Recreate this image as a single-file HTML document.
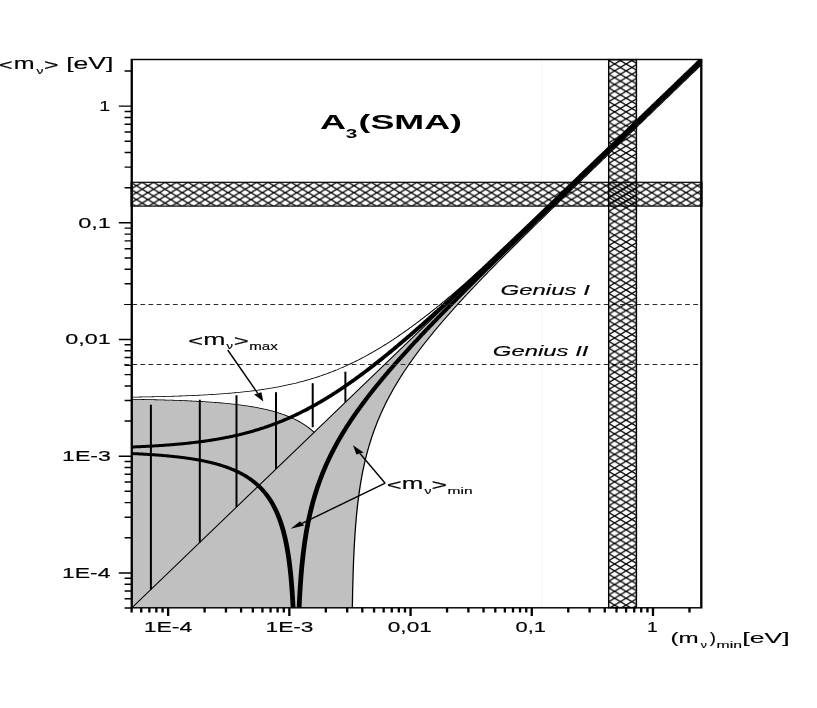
<!DOCTYPE html>
<html><head><meta charset="utf-8"><title>A3(SMA)</title>
<style>html,body{margin:0;padding:0;background:#fff}svg{display:block}text{font-family:"Liberation Sans",sans-serif;fill:#000}</style></head><body>
<svg width="817" height="708" viewBox="0 0 817 708" style="will-change:transform;filter:grayscale(1)">
<defs>
<pattern id="hv" patternUnits="userSpaceOnUse" x="614.6" y="63.95" width="11.5" height="6.85"><path d="M-1 -0.596 L12.5 7.446 M-1 7.446 L12.5 -0.596" stroke="#000" stroke-width="1.3" fill="none"/></pattern>
<pattern id="hh" patternUnits="userSpaceOnUse" x="147.9" y="185.7" width="11.45" height="6.95"><path d="M-1 -0.607 L12.45 7.557 M-1 7.557 L12.45 -0.607" stroke="#000" stroke-width="1.3" fill="none"/></pattern>
<clipPath id="clip"><rect x="82.34" y="59.50" width="355.97" height="548.30"/></clipPath>
</defs>
<rect width="817" height="708" fill="#fff"/>
<line x1="541.6" y1="59.50" x2="541.6" y2="607.80" stroke="#f6f6f6" stroke-width="1"/>
<g transform="scale(1.6,1)">
<g clip-path="url(#clip)">
<path d="M82.34 609.80 L82.34 399.31 L82.34 399.31 L83.10 399.33 L83.86 399.35 L84.62 399.37 L85.38 399.38 L86.14 399.40 L86.90 399.43 L87.66 399.45 L88.42 399.47 L89.19 399.49 L89.95 399.51 L90.71 399.54 L91.47 399.56 L92.23 399.58 L92.99 399.61 L93.75 399.63 L94.51 399.66 L95.27 399.69 L96.03 399.71 L96.79 399.74 L97.55 399.77 L98.31 399.80 L99.07 399.83 L99.83 399.86 L100.59 399.89 L101.35 399.92 L102.11 399.96 L102.87 399.99 L103.63 400.03 L104.39 400.06 L105.15 400.10 L105.91 400.13 L106.67 400.17 L107.43 400.21 L108.19 400.25 L108.95 400.29 L109.71 400.33 L110.47 400.38 L111.23 400.42 L111.99 400.47 L112.75 400.51 L113.51 400.56 L114.27 400.61 L115.03 400.66 L115.79 400.71 L116.55 400.76 L117.31 400.81 L118.07 400.87 L118.83 400.92 L119.59 400.98 L120.35 401.04 L121.11 401.10 L121.87 401.16 L122.63 401.23 L123.39 401.29 L124.15 401.36 L124.91 401.42 L125.67 401.49 L126.43 401.56 L127.19 401.64 L127.95 401.71 L128.71 401.79 L129.47 401.87 L130.23 401.95 L130.99 402.03 L131.75 402.12 L132.51 402.20 L133.27 402.29 L134.03 402.38 L134.79 402.48 L135.55 402.57 L136.31 402.67 L137.07 402.77 L137.83 402.88 L138.59 402.98 L139.35 403.09 L140.11 403.20 L140.87 403.32 L141.63 403.43 L142.39 403.55 L143.16 403.68 L143.92 403.80 L144.68 403.93 L145.44 404.07 L146.20 404.21 L146.96 404.35 L147.72 404.49 L148.48 404.64 L149.24 404.79 L150.00 404.95 L150.76 405.11 L151.52 405.27 L152.28 405.44 L153.04 405.61 L153.80 405.79 L154.56 405.97 L155.32 406.16 L156.08 406.35 L156.84 406.55 L157.60 406.75 L158.36 406.96 L159.12 407.18 L159.88 407.40 L160.64 407.63 L161.40 407.86 L162.16 408.10 L162.92 408.34 L163.68 408.60 L164.44 408.86 L165.20 409.13 L165.96 409.40 L166.72 409.69 L167.48 409.98 L168.24 410.28 L169.00 410.59 L169.76 410.91 L170.52 411.24 L171.28 411.58 L172.04 411.93 L172.80 412.29 L173.56 412.66 L174.32 413.04 L175.08 413.43 L175.84 413.84 L176.60 414.26 L177.36 414.69 L178.12 415.14 L178.88 415.60 L179.64 416.07 L180.40 416.57 L181.16 417.07 L181.92 417.60 L182.68 418.14 L183.44 418.71 L184.20 419.29 L184.96 419.89 L185.72 420.51 L186.48 421.16 L187.24 421.83 L188.00 422.53 L188.76 423.25 L189.52 424.00 L190.28 424.78 L191.04 425.59 L191.80 426.43 L192.56 427.31 L193.32 428.22 L194.08 429.17 L194.84 430.16 L195.60 431.20 L196.36 432.28 L196.36 432.28 L440.81 55.75 L440.81 61.00 L440.50 61.49 L440.18 61.97 L439.87 62.46 L439.55 62.94 L439.24 63.43 L438.92 63.92 L438.61 64.40 L438.29 64.89 L437.97 65.37 L437.66 65.86 L437.34 66.34 L437.03 66.83 L436.71 67.32 L436.40 67.80 L436.08 68.29 L435.77 68.77 L435.45 69.26 L435.14 69.74 L434.82 70.23 L434.51 70.72 L434.19 71.20 L433.88 71.69 L433.56 72.17 L433.24 72.66 L432.93 73.14 L432.61 73.63 L432.30 74.12 L431.98 74.60 L431.67 75.09 L431.35 75.57 L431.04 76.06 L430.72 76.54 L430.41 77.03 L430.09 77.52 L429.78 78.00 L429.46 78.49 L429.15 78.97 L428.83 79.46 L428.51 79.94 L428.20 80.43 L427.88 80.92 L427.57 81.40 L427.25 81.89 L426.94 82.37 L426.62 82.86 L426.31 83.34 L425.99 83.83 L425.68 84.32 L425.36 84.80 L425.05 85.29 L424.73 85.77 L424.42 86.26 L424.10 86.74 L423.79 87.23 L423.47 87.72 L423.15 88.20 L422.84 88.69 L422.52 89.17 L422.21 89.66 L421.89 90.14 L421.58 90.63 L421.26 91.12 L420.95 91.60 L420.63 92.09 L420.32 92.57 L420.00 93.06 L419.69 93.54 L419.37 94.03 L419.06 94.52 L418.74 95.00 L418.42 95.49 L418.11 95.97 L417.79 96.46 L417.48 96.95 L417.16 97.43 L416.85 97.92 L416.53 98.40 L416.22 98.89 L415.90 99.37 L415.59 99.86 L415.27 100.35 L414.96 100.83 L414.64 101.32 L414.33 101.80 L414.01 102.29 L413.69 102.77 L413.38 103.26 L413.06 103.75 L412.75 104.23 L412.43 104.72 L412.12 105.20 L411.80 105.69 L411.49 106.17 L411.17 106.66 L410.86 107.15 L410.54 107.63 L410.23 108.12 L409.91 108.60 L409.60 109.09 L409.28 109.58 L408.96 110.06 L408.65 110.55 L408.33 111.03 L408.02 111.52 L407.70 112.00 L407.39 112.49 L407.07 112.98 L406.76 113.46 L406.44 113.95 L406.13 114.43 L405.81 114.92 L405.50 115.41 L405.18 115.89 L404.87 116.38 L404.55 116.86 L404.23 117.35 L403.92 117.83 L403.60 118.32 L403.29 118.81 L402.97 119.29 L402.66 119.78 L402.34 120.26 L402.03 120.75 L401.71 121.24 L401.40 121.72 L401.08 122.21 L400.77 122.69 L400.45 123.18 L400.14 123.66 L399.82 124.15 L399.51 124.64 L399.19 125.12 L398.87 125.61 L398.56 126.09 L398.24 126.58 L397.93 127.07 L397.61 127.55 L397.30 128.04 L396.98 128.52 L396.67 129.01 L396.35 129.50 L396.04 129.98 L395.72 130.47 L395.41 130.95 L395.09 131.44 L394.78 131.92 L394.46 132.41 L394.14 132.90 L393.83 133.38 L393.51 133.87 L393.20 134.35 L392.88 134.84 L392.57 135.33 L392.25 135.81 L391.94 136.30 L391.62 136.78 L391.31 137.27 L390.99 137.76 L390.68 138.24 L390.36 138.73 L390.05 139.21 L389.73 139.70 L389.41 140.19 L389.10 140.67 L388.78 141.16 L388.47 141.64 L388.15 142.13 L387.84 142.62 L387.52 143.10 L387.21 143.59 L386.89 144.07 L386.58 144.56 L386.26 145.05 L385.95 145.53 L385.63 146.02 L385.32 146.50 L385.00 146.99 L384.68 147.48 L384.37 147.96 L384.05 148.45 L383.74 148.94 L383.42 149.42 L383.11 149.91 L382.79 150.39 L382.48 150.88 L382.16 151.37 L381.85 151.85 L381.53 152.34 L381.22 152.82 L380.90 153.31 L380.59 153.80 L380.27 154.28 L379.96 154.77 L379.64 155.26 L379.32 155.74 L379.01 156.23 L378.69 156.71 L378.38 157.20 L378.06 157.69 L377.75 158.17 L377.43 158.66 L377.12 159.15 L376.80 159.63 L376.49 160.12 L376.17 160.61 L375.86 161.09 L375.54 161.58 L375.23 162.06 L374.91 162.55 L374.59 163.04 L374.28 163.52 L373.96 164.01 L373.65 164.50 L373.33 164.98 L373.02 165.47 L372.70 165.96 L372.39 166.44 L372.07 166.93 L371.76 167.42 L371.44 167.90 L371.13 168.39 L370.81 168.88 L370.50 169.36 L370.18 169.85 L369.86 170.34 L369.55 170.82 L369.23 171.31 L368.92 171.80 L368.60 172.28 L368.29 172.77 L367.97 173.26 L367.66 173.74 L367.34 174.23 L367.03 174.72 L366.71 175.20 L366.40 175.69 L366.08 176.18 L365.77 176.66 L365.45 177.15 L365.13 177.64 L364.82 178.13 L364.50 178.61 L364.19 179.10 L363.87 179.59 L363.56 180.07 L363.24 180.56 L362.93 181.05 L362.61 181.54 L362.30 182.02 L361.98 182.51 L361.67 183.00 L361.35 183.49 L361.04 183.97 L360.72 184.46 L360.40 184.95 L360.09 185.43 L359.77 185.92 L359.46 186.41 L359.14 186.90 L358.83 187.38 L358.51 187.87 L358.20 188.36 L357.88 188.85 L357.57 189.34 L357.25 189.82 L356.94 190.31 L356.62 190.80 L356.31 191.29 L355.99 191.78 L355.68 192.26 L355.36 192.75 L355.04 193.24 L354.73 193.73 L354.41 194.22 L354.10 194.70 L353.78 195.19 L353.47 195.68 L353.15 196.17 L352.84 196.66 L352.52 197.15 L352.21 197.63 L351.89 198.12 L351.58 198.61 L351.26 199.10 L350.95 199.59 L350.63 200.08 L350.31 200.57 L350.00 201.05 L349.68 201.54 L349.37 202.03 L349.05 202.52 L348.74 203.01 L348.42 203.50 L348.11 203.99 L347.79 204.48 L347.48 204.97 L347.16 205.46 L346.85 205.95 L346.53 206.44 L346.22 206.93 L345.90 207.42 L345.58 207.91 L345.27 208.40 L344.95 208.89 L344.64 209.38 L344.32 209.87 L344.01 210.36 L343.69 210.85 L343.38 211.34 L343.06 211.83 L342.75 212.32 L342.43 212.81 L342.12 213.30 L341.80 213.79 L341.49 214.28 L341.17 214.77 L340.85 215.26 L340.54 215.75 L340.22 216.24 L339.91 216.74 L339.59 217.23 L339.28 217.72 L338.96 218.21 L338.65 218.70 L338.33 219.19 L338.02 219.69 L337.70 220.18 L337.39 220.67 L337.07 221.16 L336.76 221.66 L336.44 222.15 L336.13 222.64 L335.81 223.13 L335.49 223.63 L335.18 224.12 L334.86 224.61 L334.55 225.11 L334.23 225.60 L333.92 226.09 L333.60 226.59 L333.29 227.08 L332.97 227.57 L332.66 228.07 L332.34 228.56 L332.03 229.06 L331.71 229.55 L331.40 230.05 L331.08 230.54 L330.76 231.04 L330.45 231.53 L330.13 232.03 L329.82 232.52 L329.50 233.02 L329.19 233.51 L328.87 234.01 L328.56 234.51 L328.24 235.00 L327.93 235.50 L327.61 235.99 L327.30 236.49 L326.98 236.99 L326.67 237.49 L326.35 237.98 L326.03 238.48 L325.72 238.98 L325.40 239.48 L325.09 239.97 L324.77 240.47 L324.46 240.97 L324.14 241.47 L323.83 241.97 L323.51 242.47 L323.20 242.97 L322.88 243.47 L322.57 243.97 L322.25 244.47 L321.94 244.97 L321.62 245.47 L321.30 245.97 L320.99 246.47 L320.67 246.97 L320.36 247.47 L320.04 247.97 L319.73 248.48 L319.41 248.98 L319.10 249.48 L318.78 249.98 L318.47 250.49 L318.15 250.99 L317.84 251.49 L317.52 252.00 L317.21 252.50 L316.89 253.01 L316.57 253.51 L316.26 254.01 L315.94 254.52 L315.63 255.03 L315.31 255.53 L315.00 256.04 L314.68 256.54 L314.37 257.05 L314.05 257.56 L313.74 258.07 L313.42 258.57 L313.11 259.08 L312.79 259.59 L312.48 260.10 L312.16 260.61 L311.85 261.12 L311.53 261.63 L311.21 262.14 L310.90 262.65 L310.58 263.16 L310.27 263.67 L309.95 264.18 L309.64 264.69 L309.32 265.20 L309.01 265.72 L308.69 266.23 L308.38 266.74 L308.06 267.26 L307.75 267.77 L307.43 268.28 L307.12 268.80 L306.80 269.31 L306.48 269.83 L306.17 270.35 L305.85 270.86 L305.54 271.38 L305.22 271.90 L304.91 272.41 L304.59 272.93 L304.28 273.45 L303.96 273.97 L303.65 274.49 L303.33 275.01 L303.02 275.53 L302.70 276.05 L302.39 276.57 L302.07 277.09 L301.75 277.62 L301.44 278.14 L301.12 278.66 L300.81 279.19 L300.49 279.71 L300.18 280.24 L299.86 280.76 L299.55 281.29 L299.23 281.81 L298.92 282.34 L298.60 282.87 L298.29 283.40 L297.97 283.93 L297.66 284.46 L297.34 284.98 L297.02 285.52 L296.71 286.05 L296.39 286.58 L296.08 287.11 L295.76 287.64 L295.45 288.18 L295.13 288.71 L294.82 289.24 L294.50 289.78 L294.19 290.32 L293.87 290.85 L293.56 291.39 L293.24 291.93 L292.93 292.46 L292.61 293.00 L292.30 293.54 L291.98 294.08 L291.66 294.63 L291.35 295.17 L291.03 295.71 L290.72 296.25 L290.40 296.80 L290.09 297.34 L289.77 297.89 L289.46 298.43 L289.14 298.98 L288.83 299.53 L288.51 300.08 L288.20 300.63 L287.88 301.18 L287.57 301.73 L287.25 302.28 L286.93 302.83 L286.62 303.38 L286.30 303.94 L285.99 304.49 L285.67 305.05 L285.36 305.61 L285.04 306.16 L284.73 306.72 L284.41 307.28 L284.10 307.84 L283.78 308.40 L283.47 308.97 L283.15 309.53 L282.84 310.09 L282.52 310.66 L282.20 311.22 L281.89 311.79 L281.57 312.36 L281.26 312.93 L280.94 313.50 L280.63 314.07 L280.31 314.64 L280.00 315.22 L279.68 315.79 L279.37 316.37 L279.05 316.94 L278.74 317.52 L278.42 318.10 L278.11 318.68 L277.79 319.26 L277.47 319.84 L277.16 320.43 L276.84 321.01 L276.53 321.60 L276.21 322.18 L275.90 322.77 L275.58 323.36 L275.27 323.95 L274.95 324.55 L274.64 325.14 L274.32 325.74 L274.01 326.33 L273.69 326.93 L273.38 327.53 L273.06 328.13 L272.74 328.73 L272.43 329.34 L272.11 329.94 L271.80 330.55 L271.48 331.16 L271.17 331.77 L270.85 332.38 L270.54 332.99 L270.22 333.61 L269.91 334.22 L269.59 334.84 L269.28 335.46 L268.96 336.08 L268.65 336.71 L268.33 337.33 L268.02 337.96 L267.70 338.59 L267.38 339.22 L267.07 339.85 L266.75 340.48 L266.44 341.12 L266.12 341.76 L265.81 342.40 L265.49 343.04 L265.18 343.69 L264.86 344.33 L264.55 344.98 L264.23 345.63 L263.92 346.28 L263.60 346.94 L263.29 347.60 L262.97 348.26 L262.65 348.92 L262.34 349.58 L262.02 350.25 L261.71 350.92 L261.39 351.59 L261.08 352.27 L260.76 352.94 L260.45 353.62 L260.13 354.31 L259.82 354.99 L259.50 355.68 L259.19 356.37 L258.87 357.06 L258.56 357.76 L258.24 358.46 L257.92 359.16 L257.61 359.87 L257.29 360.58 L256.98 361.29 L256.66 362.01 L256.35 362.72 L256.03 363.45 L255.72 364.17 L255.40 364.90 L255.09 365.63 L254.77 366.37 L254.46 367.11 L254.14 367.86 L253.83 368.60 L253.51 369.36 L253.19 370.11 L252.88 370.87 L252.56 371.64 L252.25 372.40 L251.93 373.18 L251.62 373.95 L251.30 374.74 L250.99 375.52 L250.67 376.32 L250.36 377.11 L250.04 377.91 L249.73 378.72 L249.41 379.53 L249.10 380.35 L248.78 381.17 L248.47 382.00 L248.15 382.83 L247.83 383.67 L247.52 384.52 L247.20 385.37 L246.89 386.23 L246.57 387.09 L246.26 387.96 L245.94 388.84 L245.63 389.73 L245.31 390.62 L245.00 391.52 L244.68 392.42 L244.37 393.34 L244.05 394.26 L243.74 395.19 L243.42 396.13 L243.10 397.08 L242.79 398.03 L242.47 399.00 L242.16 399.97 L241.84 400.96 L241.53 401.95 L241.21 402.96 L240.90 403.97 L240.58 405.00 L240.27 406.03 L239.95 407.08 L239.64 408.14 L239.32 409.21 L239.01 410.30 L238.69 411.40 L238.37 412.51 L238.06 413.63 L237.74 414.77 L237.43 415.93 L237.11 417.10 L236.80 418.29 L236.48 419.49 L236.17 420.71 L235.85 421.95 L235.54 423.21 L235.22 424.49 L234.91 425.79 L234.59 427.11 L234.28 428.45 L233.96 429.81 L233.64 431.20 L233.33 432.62 L233.01 434.06 L232.70 435.53 L232.38 437.03 L232.07 438.56 L231.75 440.12 L231.44 441.71 L231.12 443.35 L230.81 445.02 L230.49 446.73 L230.18 448.48 L229.86 450.28 L229.55 452.12 L229.23 454.02 L228.92 455.97 L228.60 457.98 L228.28 460.06 L227.97 462.20 L227.65 464.41 L227.34 466.70 L227.02 469.08 L226.71 471.55 L226.39 474.12 L226.08 476.80 L225.76 479.61 L225.45 482.55 L225.13 485.64 L224.82 488.90 L224.50 492.35 L224.19 496.01 L223.87 499.92 L223.55 504.12 L223.24 508.65 L222.92 513.57 L222.61 518.97 L222.29 524.96 L221.98 531.68 L221.66 539.35 L221.35 548.29 L221.03 559.04 L220.72 572.56 L220.40 590.84 L220.09 619.34 L220.09 609.80 Z" fill="#c0c0c0" stroke="none"/>
<path d="M82.34 399.31 L83.10 399.33 L83.86 399.35 L84.62 399.37 L85.38 399.38 L86.14 399.40 L86.90 399.43 L87.66 399.45 L88.42 399.47 L89.19 399.49 L89.95 399.51 L90.71 399.54 L91.47 399.56 L92.23 399.58 L92.99 399.61 L93.75 399.63 L94.51 399.66 L95.27 399.69 L96.03 399.71 L96.79 399.74 L97.55 399.77 L98.31 399.80 L99.07 399.83 L99.83 399.86 L100.59 399.89 L101.35 399.92 L102.11 399.96 L102.87 399.99 L103.63 400.03 L104.39 400.06 L105.15 400.10 L105.91 400.13 L106.67 400.17 L107.43 400.21 L108.19 400.25 L108.95 400.29 L109.71 400.33 L110.47 400.38 L111.23 400.42 L111.99 400.47 L112.75 400.51 L113.51 400.56 L114.27 400.61 L115.03 400.66 L115.79 400.71 L116.55 400.76 L117.31 400.81 L118.07 400.87 L118.83 400.92 L119.59 400.98 L120.35 401.04 L121.11 401.10 L121.87 401.16 L122.63 401.23 L123.39 401.29 L124.15 401.36 L124.91 401.42 L125.67 401.49 L126.43 401.56 L127.19 401.64 L127.95 401.71 L128.71 401.79 L129.47 401.87 L130.23 401.95 L130.99 402.03 L131.75 402.12 L132.51 402.20 L133.27 402.29 L134.03 402.38 L134.79 402.48 L135.55 402.57 L136.31 402.67 L137.07 402.77 L137.83 402.88 L138.59 402.98 L139.35 403.09 L140.11 403.20 L140.87 403.32 L141.63 403.43 L142.39 403.55 L143.16 403.68 L143.92 403.80 L144.68 403.93 L145.44 404.07 L146.20 404.21 L146.96 404.35 L147.72 404.49 L148.48 404.64 L149.24 404.79 L150.00 404.95 L150.76 405.11 L151.52 405.27 L152.28 405.44 L153.04 405.61 L153.80 405.79 L154.56 405.97 L155.32 406.16 L156.08 406.35 L156.84 406.55 L157.60 406.75 L158.36 406.96 L159.12 407.18 L159.88 407.40 L160.64 407.63 L161.40 407.86 L162.16 408.10 L162.92 408.34 L163.68 408.60 L164.44 408.86 L165.20 409.13 L165.96 409.40 L166.72 409.69 L167.48 409.98 L168.24 410.28 L169.00 410.59 L169.76 410.91 L170.52 411.24 L171.28 411.58 L172.04 411.93 L172.80 412.29 L173.56 412.66 L174.32 413.04 L175.08 413.43 L175.84 413.84 L176.60 414.26 L177.36 414.69 L178.12 415.14 L178.88 415.60 L179.64 416.07 L180.40 416.57 L181.16 417.07 L181.92 417.60 L182.68 418.14 L183.44 418.71 L184.20 419.29 L184.96 419.89 L185.72 420.51 L186.48 421.16 L187.24 421.83 L188.00 422.53 L188.76 423.25 L189.52 424.00 L190.28 424.78 L191.04 425.59 L191.80 426.43 L192.56 427.31 L193.32 428.22 L194.08 429.17 L194.84 430.16 L195.60 431.20 L196.36 432.28 L196.36 432.28" fill="none" stroke="#000" stroke-width="0.8"/>
<path d="M82.34 397.13 L83.06 397.11 L83.78 397.10 L84.49 397.08 L85.21 397.06 L85.93 397.04 L86.65 397.03 L87.36 397.01 L88.08 396.99 L88.80 396.97 L89.51 396.95 L90.23 396.93 L90.95 396.91 L91.66 396.89 L92.38 396.86 L93.10 396.84 L93.81 396.82 L94.53 396.80 L95.25 396.77 L95.97 396.75 L96.68 396.72 L97.40 396.70 L98.12 396.67 L98.83 396.65 L99.55 396.62 L100.27 396.59 L100.98 396.56 L101.70 396.53 L102.42 396.50 L103.13 396.47 L103.85 396.44 L104.57 396.41 L105.29 396.38 L106.00 396.35 L106.72 396.31 L107.44 396.28 L108.15 396.25 L108.87 396.21 L109.59 396.17 L110.30 396.14 L111.02 396.10 L111.74 396.06 L112.46 396.02 L113.17 395.98 L113.89 395.94 L114.61 395.90 L115.32 395.85 L116.04 395.81 L116.76 395.77 L117.47 395.72 L118.19 395.67 L118.91 395.62 L119.62 395.58 L120.34 395.53 L121.06 395.48 L121.78 395.42 L122.49 395.37 L123.21 395.32 L123.93 395.26 L124.64 395.21 L125.36 395.15 L126.08 395.09 L126.79 395.03 L127.51 394.97 L128.23 394.91 L128.94 394.84 L129.66 394.78 L130.38 394.71 L131.10 394.64 L131.81 394.57 L132.53 394.50 L133.25 394.43 L133.96 394.36 L134.68 394.28 L135.40 394.21 L136.11 394.13 L136.83 394.05 L137.55 393.97 L138.26 393.88 L138.98 393.80 L139.70 393.71 L140.42 393.62 L141.13 393.53 L141.85 393.44 L142.57 393.35 L143.28 393.25 L144.00 393.16 L144.72 393.06 L145.43 392.95 L146.15 392.85 L146.87 392.75 L147.59 392.64 L148.30 392.53 L149.02 392.42 L149.74 392.30 L150.45 392.19 L151.17 392.07 L151.89 391.95 L152.60 391.82 L153.32 391.70 L154.04 391.57 L154.75 391.44 L155.47 391.31 L156.19 391.17 L156.91 391.03 L157.62 390.89 L158.34 390.75 L159.06 390.60 L159.77 390.45 L160.49 390.30 L161.21 390.14 L161.92 389.99 L162.64 389.82 L163.36 389.66 L164.07 389.49 L164.79 389.32 L165.51 389.15 L166.23 388.97 L166.94 388.79 L167.66 388.61 L168.38 388.42 L169.09 388.23 L169.81 388.04 L170.53 387.84 L171.24 387.64 L171.96 387.44 L172.68 387.23 L173.39 387.02 L174.11 386.81 L174.83 386.59 L175.55 386.36 L176.26 386.14 L176.98 385.91 L177.70 385.67 L178.41 385.43 L179.13 385.19 L179.85 384.94 L180.56 384.69 L181.28 384.44 L182.00 384.18 L182.71 383.91 L183.43 383.65 L184.15 383.37 L184.87 383.10 L185.58 382.81 L186.30 382.53 L187.02 382.24 L187.73 381.94 L188.45 381.64 L189.17 381.33 L189.88 381.02 L190.60 380.71 L191.32 380.39 L192.04 380.06 L192.75 379.73 L193.47 379.40 L194.19 379.06 L194.90 378.71 L195.62 378.36 L196.34 378.00 L197.05 377.64 L197.77 377.28 L198.49 376.90 L199.20 376.53 L199.92 376.14 L200.64 375.76 L201.36 375.36 L202.07 374.96 L202.79 374.56 L203.51 374.15 L204.22 373.73 L204.94 373.31 L205.66 372.88 L206.37 372.45 L207.09 372.01 L207.81 371.56 L208.52 371.11 L209.24 370.66 L209.96 370.19 L210.68 369.73 L211.39 369.25 L212.11 368.77 L212.83 368.29 L213.54 367.79 L214.26 367.30 L214.98 366.79 L215.69 366.28 L216.41 365.76 L217.13 365.24 L217.84 364.71 L218.56 364.18 L219.28 363.64 L220.00 363.09 L220.71 362.54 L221.43 361.98 L222.15 361.42 L222.86 360.85 L223.58 360.27 L224.30 359.69 L225.01 359.10 L225.73 358.51 L226.45 357.90 L227.17 357.30 L227.88 356.69 L228.60 356.07 L229.32 355.44 L230.03 354.81 L230.75 354.17 L231.47 353.53 L232.18 352.88 L232.90 352.23 L233.62 351.57 L234.33 350.90 L235.05 350.23 L235.77 349.55 L236.49 348.87 L237.20 348.18 L237.92 347.49 L238.64 346.79 L239.35 346.08 L240.07 345.37 L240.79 344.65 L241.50 343.93 L242.22 343.20 L242.94 342.47 L243.65 341.73 L244.37 340.98 L245.09 340.23 L245.81 339.48 L246.52 338.72 L247.24 337.95 L247.96 337.18 L248.67 336.40 L249.39 335.62 L250.11 334.83 L250.82 334.04 L251.54 333.25 L252.26 332.44 L252.97 331.64 L253.69 330.83 L254.41 330.01 L255.13 329.19 L255.84 328.36 L256.56 327.53 L257.28 326.70 L257.99 325.86 L258.71 325.02 L259.43 324.17 L260.14 323.31 L260.86 322.46 L261.58 321.59 L262.30 320.73 L263.01 319.86 L263.73 318.98 L264.45 318.11 L265.16 317.22 L265.88 316.34 L266.60 315.45 L267.31 314.55 L268.03 313.65 L268.75 312.75 L269.46 311.84 L270.18 310.93 L270.90 310.02 L271.62 309.10 L272.33 308.18 L273.05 307.26 L273.77 306.33 L274.48 305.40 L275.20 304.46 L275.92 303.52 L276.63 302.58 L277.35 301.64 L278.07 300.69 L278.78 299.74 L279.50 298.78 L280.22 297.82 L280.94 296.86 L281.65 295.90 L282.37 294.93 L283.09 293.96 L283.80 292.99 L284.52 292.01 L285.24 291.03 L285.95 290.05 L286.67 289.07 L287.39 288.08 L288.10 287.09 L288.82 286.10 L289.54 285.11 L290.26 284.11 L290.97 283.11 L291.69 282.11 L292.41 281.10 L293.12 280.10 L293.84 279.09 L294.56 278.07 L295.27 277.06 L295.99 276.04 L296.71 275.03 L297.42 274.01 L298.14 272.98 L298.86 271.96 L299.58 270.93 L300.29 269.90 L301.01 268.87 L301.73 267.84 L302.44 266.80 L303.16 265.77 L303.88 264.73 L304.59 263.69 L305.31 262.65 L306.03 261.60 L306.75 260.56 L307.46 259.51 L308.18 258.46 L308.90 257.41 L309.61 256.36 L310.33 255.31 L311.05 254.25 L311.76 253.20 L312.48 252.14 L313.20 251.08 L313.91 250.02 L314.63 248.96 L315.35 247.89 L316.07 246.83 L316.78 245.76 L317.50 244.69 L318.22 243.63 L318.93 242.56 L319.65 241.49 L320.37 240.41 L321.08 239.34 L321.80 238.27 L322.52 237.19 L323.23 236.12 L323.95 235.04 L324.67 233.96 L325.39 232.88 L326.10 231.80 L326.82 230.72 L327.54 229.64 L328.25 228.56 L328.97 227.48 L329.69 226.39 L330.40 225.31 L331.12 224.22 L331.84 223.14 L332.55 222.05 L333.27 220.96 L333.99 219.88 L334.71 218.79 L335.42 217.70 L336.14 216.61 L336.86 215.52 L337.57 214.43 L338.29 213.34 L339.01 212.24 L339.72 211.15 L340.44 210.06 L341.16 208.97 L341.88 207.87 L342.59 206.78 L343.31 205.68 L344.03 204.59 L344.74 203.49 L345.46 202.40 L346.18 201.30 L346.89 200.21 L347.61 199.11 L348.33 198.01 L349.04 196.92 L349.76 195.82 L350.48 194.72 L351.20 193.62 L351.91 192.53 L352.63 191.43 L353.35 190.33 L354.06 189.23 L354.78 188.13 L355.50 187.03 L356.21 185.93 L356.93 184.83 L357.65 183.73 L358.36 182.63 L359.08 181.53 L359.80 180.43 L360.52 179.33 L361.23 178.23 L361.95 177.13 L362.67 176.03 L363.38 174.93 L364.10 173.82 L364.82 172.72 L365.53 171.62 L366.25 170.52 L366.97 169.42 L367.68 168.32 L368.40 167.21 L369.12 166.11 L369.84 165.01 L370.55 163.91 L371.27 162.80 L371.99 161.70 L372.70 160.60 L373.42 159.50 L374.14 158.39 L374.85 157.29 L375.57 156.19 L376.29 155.09 L377.01 153.98 L377.72 152.88 L378.44 151.78 L379.16 150.67 L379.87 149.57 L380.59 148.47 L381.31 147.36 L382.02 146.26 L382.74 145.16 L383.46 144.05 L384.17 142.95 L384.89 141.85 L385.61 140.74 L386.33 139.64 L387.04 138.54 L387.76 137.43 L388.48 136.33 L389.19 135.23 L389.91 134.12 L390.63 133.02 L391.34 131.91 L392.06 130.81 L392.78 129.71 L393.49 128.60 L394.21 127.50 L394.93 126.40 L395.65 125.29 L396.36 124.19 L397.08 123.08 L397.80 121.98 L398.51 120.88 L399.23 119.77 L399.95 118.67 L400.66 117.56 L401.38 116.46 L402.10 115.36 L402.81 114.25 L403.53 113.15 L404.25 112.04 L404.97 110.94 L405.68 109.84 L406.40 108.73 L407.12 107.63 L407.83 106.52 L408.55 105.42 L409.27 104.32 L409.98 103.21 L410.70 102.11 L411.42 101.00 L412.13 99.90 L412.85 98.79 L413.57 97.69 L414.29 96.59 L415.00 95.48 L415.72 94.38 L416.44 93.27 L417.15 92.17 L417.87 91.07 L418.59 89.96 L419.30 88.86 L420.02 87.75 L420.74 86.65 L421.46 85.54 L422.17 84.44 L422.89 83.34 L423.61 82.23 L424.32 81.13 L425.04 80.02 L425.76 78.92 L426.47 77.81 L427.19 76.71 L427.91 75.61 L428.62 74.50 L429.34 73.40 L430.06 72.29 L430.78 71.19 L431.49 70.08 L432.21 68.98 L432.93 67.88 L433.64 66.77 L434.36 65.67 L435.08 64.56 L435.79 63.46 L436.51 62.35 L437.23 61.25 L437.94 60.15 L438.66 59.04 L439.38 57.94 L440.10 56.83 L440.81 55.73" fill="none" stroke="#000" stroke-width="0.8"/>
<path d="M220.09 609.80 L220.09 619.34 L220.40 590.84 L220.72 572.56 L221.03 559.04 L221.35 548.29 L221.66 539.35 L221.98 531.68 L222.29 524.96 L222.61 518.97 L222.92 513.57 L223.24 508.65 L223.55 504.12 L223.87 499.92 L224.19 496.01 L224.50 492.35 L224.82 488.90 L225.13 485.64 L225.45 482.55 L225.76 479.61 L226.08 476.80 L226.39 474.12 L226.71 471.55 L227.02 469.08 L227.34 466.70 L227.65 464.41 L227.97 462.20 L228.28 460.06 L228.60 457.98 L228.92 455.97 L229.23 454.02 L229.55 452.12 L229.86 450.28 L230.18 448.48 L230.49 446.73 L230.81 445.02 L231.12 443.35 L231.44 441.71 L231.75 440.12 L232.07 438.56 L232.38 437.03 L232.70 435.53 L233.01 434.06 L233.33 432.62 L233.64 431.20 L233.96 429.81 L234.28 428.45 L234.59 427.11 L234.91 425.79 L235.22 424.49 L235.54 423.21 L235.85 421.95 L236.17 420.71 L236.48 419.49 L236.80 418.29 L237.11 417.10 L237.43 415.93 L237.74 414.77 L238.06 413.63 L238.37 412.51 L238.69 411.40 L239.01 410.30 L239.32 409.21 L239.64 408.14 L239.95 407.08 L240.27 406.03 L240.58 405.00 L240.90 403.97 L241.21 402.96 L241.53 401.95 L241.84 400.96 L242.16 399.97 L242.47 399.00 L242.79 398.03 L243.10 397.08 L243.42 396.13 L243.74 395.19 L244.05 394.26 L244.37 393.34 L244.68 392.42 L245.00 391.52 L245.31 390.62 L245.63 389.73 L245.94 388.84 L246.26 387.96 L246.57 387.09 L246.89 386.23 L247.20 385.37 L247.52 384.52 L247.83 383.67 L248.15 382.83 L248.47 382.00 L248.78 381.17 L249.10 380.35 L249.41 379.53 L249.73 378.72 L250.04 377.91 L250.36 377.11 L250.67 376.32 L250.99 375.52 L251.30 374.74 L251.62 373.95 L251.93 373.18 L252.25 372.40 L252.56 371.64 L252.88 370.87 L253.19 370.11 L253.51 369.36 L253.83 368.60 L254.14 367.86 L254.46 367.11 L254.77 366.37 L255.09 365.63 L255.40 364.90 L255.72 364.17 L256.03 363.45 L256.35 362.72 L256.66 362.01 L256.98 361.29 L257.29 360.58 L257.61 359.87 L257.92 359.16 L258.24 358.46 L258.56 357.76 L258.87 357.06 L259.19 356.37 L259.50 355.68 L259.82 354.99 L260.13 354.31 L260.45 353.62 L260.76 352.94 L261.08 352.27 L261.39 351.59 L261.71 350.92 L262.02 350.25 L262.34 349.58 L262.65 348.92 L262.97 348.26 L263.29 347.60 L263.60 346.94 L263.92 346.28 L264.23 345.63 L264.55 344.98 L264.86 344.33 L265.18 343.69 L265.49 343.04 L265.81 342.40 L266.12 341.76 L266.44 341.12 L266.75 340.48 L267.07 339.85 L267.38 339.22 L267.70 338.59 L268.02 337.96 L268.33 337.33 L268.65 336.71 L268.96 336.08 L269.28 335.46 L269.59 334.84 L269.91 334.22 L270.22 333.61 L270.54 332.99 L270.85 332.38 L271.17 331.77 L271.48 331.16 L271.80 330.55 L272.11 329.94 L272.43 329.34 L272.74 328.73 L273.06 328.13 L273.38 327.53 L273.69 326.93 L274.01 326.33 L274.32 325.74 L274.64 325.14 L274.95 324.55 L275.27 323.95 L275.58 323.36 L275.90 322.77 L276.21 322.18 L276.53 321.60 L276.84 321.01 L277.16 320.43 L277.47 319.84 L277.79 319.26 L278.11 318.68 L278.42 318.10 L278.74 317.52 L279.05 316.94 L279.37 316.37 L279.68 315.79 L280.00 315.22 L280.31 314.64 L280.63 314.07 L280.94 313.50 L281.26 312.93 L281.57 312.36 L281.89 311.79 L282.20 311.22 L282.52 310.66 L282.84 310.09 L283.15 309.53 L283.47 308.97 L283.78 308.40 L284.10 307.84 L284.41 307.28 L284.73 306.72 L285.04 306.16 L285.36 305.61 L285.67 305.05 L285.99 304.49 L286.30 303.94 L286.62 303.38 L286.93 302.83 L287.25 302.28 L287.57 301.73 L287.88 301.18 L288.20 300.63 L288.51 300.08 L288.83 299.53 L289.14 298.98 L289.46 298.43 L289.77 297.89 L290.09 297.34 L290.40 296.80 L290.72 296.25 L291.03 295.71 L291.35 295.17 L291.66 294.63 L291.98 294.08 L292.30 293.54 L292.61 293.00 L292.93 292.46 L293.24 291.93 L293.56 291.39 L293.87 290.85 L294.19 290.32 L294.50 289.78 L294.82 289.24 L295.13 288.71 L295.45 288.18 L295.76 287.64 L296.08 287.11 L296.39 286.58 L296.71 286.05 L297.02 285.52 L297.34 284.98 L297.66 284.46 L297.97 283.93 L298.29 283.40 L298.60 282.87 L298.92 282.34 L299.23 281.81 L299.55 281.29 L299.86 280.76 L300.18 280.24 L300.49 279.71 L300.81 279.19 L301.12 278.66 L301.44 278.14 L301.75 277.62 L302.07 277.09 L302.39 276.57 L302.70 276.05 L303.02 275.53 L303.33 275.01 L303.65 274.49 L303.96 273.97 L304.28 273.45 L304.59 272.93 L304.91 272.41 L305.22 271.90 L305.54 271.38 L305.85 270.86 L306.17 270.35 L306.48 269.83 L306.80 269.31 L307.12 268.80 L307.43 268.28 L307.75 267.77 L308.06 267.26 L308.38 266.74 L308.69 266.23 L309.01 265.72 L309.32 265.20 L309.64 264.69 L309.95 264.18 L310.27 263.67 L310.58 263.16 L310.90 262.65 L311.21 262.14 L311.53 261.63 L311.85 261.12 L312.16 260.61 L312.48 260.10 L312.79 259.59 L313.11 259.08 L313.42 258.57 L313.74 258.07 L314.05 257.56 L314.37 257.05 L314.68 256.54 L315.00 256.04 L315.31 255.53 L315.63 255.03 L315.94 254.52 L316.26 254.01 L316.57 253.51 L316.89 253.01 L317.21 252.50 L317.52 252.00 L317.84 251.49 L318.15 250.99 L318.47 250.49 L318.78 249.98 L319.10 249.48 L319.41 248.98 L319.73 248.48 L320.04 247.97 L320.36 247.47 L320.67 246.97 L320.99 246.47 L321.30 245.97 L321.62 245.47 L321.94 244.97 L322.25 244.47 L322.57 243.97 L322.88 243.47 L323.20 242.97 L323.51 242.47 L323.83 241.97 L324.14 241.47 L324.46 240.97 L324.77 240.47 L325.09 239.97 L325.40 239.48 L325.72 238.98 L326.03 238.48 L326.35 237.98 L326.67 237.49 L326.98 236.99 L327.30 236.49 L327.61 235.99 L327.93 235.50 L328.24 235.00 L328.56 234.51 L328.87 234.01 L329.19 233.51 L329.50 233.02 L329.82 232.52 L330.13 232.03 L330.45 231.53 L330.76 231.04 L331.08 230.54 L331.40 230.05 L331.71 229.55 L332.03 229.06 L332.34 228.56 L332.66 228.07 L332.97 227.57 L333.29 227.08 L333.60 226.59 L333.92 226.09 L334.23 225.60 L334.55 225.11 L334.86 224.61 L335.18 224.12 L335.49 223.63 L335.81 223.13 L336.13 222.64 L336.44 222.15 L336.76 221.66 L337.07 221.16 L337.39 220.67 L337.70 220.18 L338.02 219.69 L338.33 219.19 L338.65 218.70 L338.96 218.21 L339.28 217.72 L339.59 217.23 L339.91 216.74 L340.22 216.24 L340.54 215.75 L340.85 215.26 L341.17 214.77 L341.49 214.28 L341.80 213.79 L342.12 213.30 L342.43 212.81 L342.75 212.32 L343.06 211.83 L343.38 211.34 L343.69 210.85 L344.01 210.36 L344.32 209.87 L344.64 209.38 L344.95 208.89 L345.27 208.40 L345.58 207.91 L345.90 207.42 L346.22 206.93 L346.53 206.44 L346.85 205.95 L347.16 205.46 L347.48 204.97 L347.79 204.48 L348.11 203.99 L348.42 203.50 L348.74 203.01 L349.05 202.52 L349.37 202.03 L349.68 201.54 L350.00 201.05 L350.31 200.57 L350.63 200.08 L350.95 199.59 L351.26 199.10 L351.58 198.61 L351.89 198.12 L352.21 197.63 L352.52 197.15 L352.84 196.66 L353.15 196.17 L353.47 195.68 L353.78 195.19 L354.10 194.70 L354.41 194.22 L354.73 193.73 L355.04 193.24 L355.36 192.75 L355.68 192.26 L355.99 191.78 L356.31 191.29 L356.62 190.80 L356.94 190.31 L357.25 189.82 L357.57 189.34 L357.88 188.85 L358.20 188.36 L358.51 187.87 L358.83 187.38 L359.14 186.90 L359.46 186.41 L359.77 185.92 L360.09 185.43 L360.40 184.95 L360.72 184.46 L361.04 183.97 L361.35 183.49 L361.67 183.00 L361.98 182.51 L362.30 182.02 L362.61 181.54 L362.93 181.05 L363.24 180.56 L363.56 180.07 L363.87 179.59 L364.19 179.10 L364.50 178.61 L364.82 178.13 L365.13 177.64 L365.45 177.15 L365.77 176.66 L366.08 176.18 L366.40 175.69 L366.71 175.20 L367.03 174.72 L367.34 174.23 L367.66 173.74 L367.97 173.26 L368.29 172.77 L368.60 172.28 L368.92 171.80 L369.23 171.31 L369.55 170.82 L369.86 170.34 L370.18 169.85 L370.50 169.36 L370.81 168.88 L371.13 168.39 L371.44 167.90 L371.76 167.42 L372.07 166.93 L372.39 166.44 L372.70 165.96 L373.02 165.47 L373.33 164.98 L373.65 164.50 L373.96 164.01 L374.28 163.52 L374.59 163.04 L374.91 162.55 L375.23 162.06 L375.54 161.58 L375.86 161.09 L376.17 160.61 L376.49 160.12 L376.80 159.63 L377.12 159.15 L377.43 158.66 L377.75 158.17 L378.06 157.69 L378.38 157.20 L378.69 156.71 L379.01 156.23 L379.32 155.74 L379.64 155.26 L379.96 154.77 L380.27 154.28 L380.59 153.80 L380.90 153.31 L381.22 152.82 L381.53 152.34 L381.85 151.85 L382.16 151.37 L382.48 150.88 L382.79 150.39 L383.11 149.91 L383.42 149.42 L383.74 148.94 L384.05 148.45 L384.37 147.96 L384.68 147.48 L385.00 146.99 L385.32 146.50 L385.63 146.02 L385.95 145.53 L386.26 145.05 L386.58 144.56 L386.89 144.07 L387.21 143.59 L387.52 143.10 L387.84 142.62 L388.15 142.13 L388.47 141.64 L388.78 141.16 L389.10 140.67 L389.41 140.19 L389.73 139.70 L390.05 139.21 L390.36 138.73 L390.68 138.24 L390.99 137.76 L391.31 137.27 L391.62 136.78 L391.94 136.30 L392.25 135.81 L392.57 135.33 L392.88 134.84 L393.20 134.35 L393.51 133.87 L393.83 133.38 L394.14 132.90 L394.46 132.41 L394.78 131.92 L395.09 131.44 L395.41 130.95 L395.72 130.47 L396.04 129.98 L396.35 129.50 L396.67 129.01 L396.98 128.52 L397.30 128.04 L397.61 127.55 L397.93 127.07 L398.24 126.58 L398.56 126.09 L398.87 125.61 L399.19 125.12 L399.51 124.64 L399.82 124.15 L400.14 123.66 L400.45 123.18 L400.77 122.69 L401.08 122.21 L401.40 121.72 L401.71 121.24 L402.03 120.75 L402.34 120.26 L402.66 119.78 L402.97 119.29 L403.29 118.81 L403.60 118.32 L403.92 117.83 L404.23 117.35 L404.55 116.86 L404.87 116.38 L405.18 115.89 L405.50 115.41 L405.81 114.92 L406.13 114.43 L406.44 113.95 L406.76 113.46 L407.07 112.98 L407.39 112.49 L407.70 112.00 L408.02 111.52 L408.33 111.03 L408.65 110.55 L408.96 110.06 L409.28 109.58 L409.60 109.09 L409.91 108.60 L410.23 108.12 L410.54 107.63 L410.86 107.15 L411.17 106.66 L411.49 106.17 L411.80 105.69 L412.12 105.20 L412.43 104.72 L412.75 104.23 L413.06 103.75 L413.38 103.26 L413.69 102.77 L414.01 102.29 L414.33 101.80 L414.64 101.32 L414.96 100.83 L415.27 100.35 L415.59 99.86 L415.90 99.37 L416.22 98.89 L416.53 98.40 L416.85 97.92 L417.16 97.43 L417.48 96.95 L417.79 96.46 L418.11 95.97 L418.42 95.49 L418.74 95.00 L419.06 94.52 L419.37 94.03 L419.69 93.54 L420.00 93.06 L420.32 92.57 L420.63 92.09 L420.95 91.60 L421.26 91.12 L421.58 90.63 L421.89 90.14 L422.21 89.66 L422.52 89.17 L422.84 88.69 L423.15 88.20 L423.47 87.72 L423.79 87.23 L424.10 86.74 L424.42 86.26 L424.73 85.77 L425.05 85.29 L425.36 84.80 L425.68 84.32 L425.99 83.83 L426.31 83.34 L426.62 82.86 L426.94 82.37 L427.25 81.89 L427.57 81.40 L427.88 80.92 L428.20 80.43 L428.51 79.94 L428.83 79.46 L429.15 78.97 L429.46 78.49 L429.78 78.00 L430.09 77.52 L430.41 77.03 L430.72 76.54 L431.04 76.06 L431.35 75.57 L431.67 75.09 L431.98 74.60 L432.30 74.12 L432.61 73.63 L432.93 73.14 L433.24 72.66 L433.56 72.17 L433.88 71.69 L434.19 71.20 L434.51 70.72 L434.82 70.23 L435.14 69.74 L435.45 69.26 L435.77 68.77 L436.08 68.29 L436.40 67.80 L436.71 67.32 L437.03 66.83 L437.34 66.34 L437.66 65.86 L437.97 65.37 L438.29 64.89 L438.61 64.40 L438.92 63.92 L439.24 63.43 L439.55 62.94 L439.87 62.46 L440.18 61.97 L440.50 61.49 L440.81 61.00" fill="none" stroke="#000" stroke-width="0.8"/>
<path d="M82.34 607.91 L440.81 55.75" fill="none" stroke="#000" stroke-width="0.8"/>
<path d="M94.31 404.80 L94.31 589.48" stroke="#000" stroke-width="1.25" fill="none"/>
<path d="M124.88 399.70 L124.88 542.40" stroke="#000" stroke-width="1.25" fill="none"/>
<path d="M147.81 395.20 L147.81 507.07" stroke="#000" stroke-width="1.25" fill="none"/>
<path d="M172.50 392.30 L172.50 469.04" stroke="#000" stroke-width="1.25" fill="none"/>
<path d="M195.44 383.20 L195.44 427.20" stroke="#000" stroke-width="1.25" fill="none"/>
<path d="M215.87 371.70 L215.87 402.23" stroke="#000" stroke-width="1.25" fill="none"/>
<path d="M82.34 447.00 L82.94 446.96 L83.54 446.92 L84.14 446.88 L84.73 446.84 L85.33 446.80 L85.93 446.76 L86.53 446.72 L87.12 446.67 L87.72 446.63 L88.32 446.58 L88.92 446.54 L89.51 446.49 L90.11 446.45 L90.71 446.40 L91.31 446.35 L91.90 446.30 L92.50 446.25 L93.10 446.20 L93.70 446.15 L94.29 446.09 L94.89 446.04 L95.49 445.99 L96.09 445.93 L96.68 445.87 L97.28 445.82 L97.88 445.76 L98.47 445.70 L99.07 445.64 L99.67 445.58 L100.27 445.51 L100.86 445.45 L101.46 445.39 L102.06 445.32 L102.66 445.25 L103.25 445.18 L103.85 445.11 L104.45 445.04 L105.05 444.97 L105.64 444.90 L106.24 444.83 L106.84 444.75 L107.44 444.67 L108.03 444.60 L108.63 444.52 L109.23 444.44 L109.83 444.35 L110.42 444.27 L111.02 444.19 L111.62 444.10 L112.22 444.01 L112.81 443.92 L113.41 443.83 L114.01 443.74 L114.61 443.65 L115.20 443.55 L115.80 443.46 L116.40 443.36 L117.00 443.26 L117.59 443.16 L118.19 443.06 L118.79 442.95 L119.39 442.84 L119.98 442.74 L120.58 442.63 L121.18 442.52 L121.78 442.40 L122.37 442.29 L122.97 442.17 L123.57 442.05 L124.17 441.93 L124.76 441.81 L125.36 441.68 L125.96 441.56 L126.55 441.43 L127.15 441.30 L127.75 441.17 L128.35 441.03 L128.94 440.89 L129.54 440.75 L130.14 440.61 L130.74 440.47 L131.33 440.33 L131.93 440.18 L132.53 440.03 L133.13 439.88 L133.72 439.72 L134.32 439.56 L134.92 439.40 L135.52 439.24 L136.11 439.08 L136.71 438.91 L137.31 438.74 L137.91 438.57 L138.50 438.40 L139.10 438.22 L139.70 438.04 L140.30 437.86 L140.89 437.67 L141.49 437.49 L142.09 437.30 L142.69 437.10 L143.28 436.91 L143.88 436.71 L144.48 436.51 L145.08 436.30 L145.67 436.10 L146.27 435.89 L146.87 435.68 L147.47 435.46 L148.06 435.24 L148.66 435.02 L149.26 434.79 L149.86 434.57 L150.45 434.33 L151.05 434.10 L151.65 433.86 L152.25 433.62 L152.84 433.38 L153.44 433.13 L154.04 432.88 L154.63 432.63 L155.23 432.37 L155.83 432.11 L156.43 431.84 L157.02 431.58 L157.62 431.30 L158.22 431.03 L158.82 430.75 L159.41 430.47 L160.01 430.19 L160.61 429.90 L161.21 429.60 L161.80 429.31 L162.40 429.01 L163.00 428.71 L163.60 428.40 L164.19 428.09 L164.79 427.77 L165.39 427.46 L165.99 427.13 L166.58 426.81 L167.18 426.48 L167.78 426.14 L168.38 425.81 L168.97 425.47 L169.57 425.12 L170.17 424.77 L170.77 424.42 L171.36 424.06 L171.96 423.70 L172.56 423.34 L173.16 422.97 L173.75 422.59 L174.35 422.22 L174.95 421.84 L175.55 421.45 L176.14 421.06 L176.74 420.67 L177.34 420.27 L177.94 419.87 L178.53 419.46 L179.13 419.05 L179.73 418.64 L180.33 418.22 L180.92 417.80 L181.52 417.37 L182.12 416.94 L182.71 416.51 L183.31 416.07 L183.91 415.63 L184.51 415.18 L185.10 414.73 L185.70 414.27 L186.30 413.81 L186.90 413.35 L187.49 412.88 L188.09 412.41 L188.69 411.93 L189.29 411.45 L189.88 410.97 L190.48 410.48 L191.08 409.98 L191.68 409.49 L192.27 408.99 L192.87 408.48 L193.47 407.97 L194.07 407.46 L194.66 406.94 L195.26 406.42 L195.86 405.89 L196.46 405.36 L197.05 404.83 L197.65 404.29 L198.25 403.74 L198.85 403.20 L199.44 402.65 L200.04 402.09 L200.64 401.53 L201.24 400.97 L201.83 400.41 L202.43 399.84 L203.03 399.26 L203.63 398.68 L204.22 398.10 L204.82 397.51 L205.42 396.92 L206.02 396.33 L206.61 395.73 L207.21 395.13 L207.81 394.53 L208.41 393.92 L209.00 393.30 L209.60 392.69 L210.20 392.07 L210.80 391.44 L211.39 390.82 L211.99 390.19 L212.59 389.55 L213.18 388.91 L213.78 388.27 L214.38 387.63 L214.98 386.98 L215.57 386.33 L216.17 385.67 L216.77 385.01 L217.37 384.35 L217.96 383.68 L218.56 383.01 L219.16 382.34 L219.76 381.66 L220.35 380.99 L220.95 380.30 L221.55 379.62 L222.15 378.93 L222.74 378.24 L223.34 377.54 L223.94 376.84 L224.54 376.14 L225.13 375.44 L225.73 374.73 L226.33 374.02 L226.93 373.31 L227.52 372.59 L228.12 371.87 L228.72 371.15 L229.32 370.43 L229.91 369.70 L230.51 368.97 L231.11 368.24 L231.71 367.50 L232.30 366.76 L232.90 366.02 L233.50 365.28 L234.10 364.53 L234.69 363.78 L235.29 363.03 L235.89 362.28 L236.49 361.52 L237.08 360.76 L237.68 360.00 L238.28 359.24 L238.88 358.47 L239.47 357.70 L240.07 356.93 L240.67 356.16 L241.26 355.39 L241.86 354.61 L242.46 353.83 L243.06 353.05 L243.65 352.26 L244.25 351.48 L244.85 350.69 L245.45 349.90 L246.04 349.11 L246.64 348.31 L247.24 347.52 L247.84 346.72 L248.43 345.92 L249.03 345.11 L249.63 344.31 L250.23 343.50 L250.82 342.70 L251.42 341.89 L252.02 341.08 L252.62 340.26 L253.21 339.45 L253.81 338.63 L254.41 337.81 L255.01 336.99 L255.60 336.17 L256.20 335.35 L256.80 334.52 L257.40 333.70 L257.99 332.87 L258.59 332.04 L259.19 331.21 L259.79 330.37 L260.38 329.54 L260.98 328.71 L261.58 327.87 L262.18 327.03 L262.77 326.19 L263.37 325.35 L263.97 324.51 L264.57 323.66 L265.16 322.82 L265.76 321.97 L266.36 321.12 L266.96 320.27 L267.55 319.42 L268.15 318.57 L268.75 317.72 L269.34 316.86 L269.94 316.01 L270.54 315.15 L271.14 314.30 L271.73 313.44 L272.33 312.58 L272.93 311.72 L273.53 310.86 L274.12 309.99 L274.72 309.13 L275.32 308.26 L275.92 307.40 L276.51 306.53 L277.11 305.66 L277.71 304.79 L278.31 303.92 L278.90 303.05 L279.50 302.18 L280.10 301.31 L280.70 300.43 L281.29 299.56 L281.89 298.68 L282.49 297.81 L283.09 296.93 L283.68 296.05 L284.28 295.17 L284.88 294.29 L285.48 293.41 L286.07 292.53 L286.67 291.65 L287.27 290.77 L287.87 289.88 L288.46 289.00 L289.06 288.12 L289.66 287.23 L290.26 286.34 L290.85 285.46 L291.45 284.57 L292.05 283.68 L292.65 282.79 L293.24 281.90 L293.84 281.01 L294.44 280.12 L295.04 279.23 L295.63 278.34 L296.23 277.44 L296.83 276.55 L297.42 275.66 L298.02 274.76 L298.62 273.87 L299.22 272.97 L299.81 272.07 L300.41 271.18 L301.01 270.28 L301.61 269.38 L302.20 268.48 L302.80 267.58 L303.40 266.68 L304.00 265.79 L304.59 264.88 L305.19 263.98 L305.79 263.08 L306.39 262.18 L306.98 261.28 L307.58 260.38 L308.18 259.47 L308.78 258.57 L309.37 257.67 L309.97 256.76 L310.57 255.86 L311.17 254.95 L311.76 254.05 L312.36 253.14 L312.96 252.23 L313.56 251.33 L314.15 250.42 L314.75 249.51 L315.35 248.60 L315.95 247.70 L316.54 246.79 L317.14 245.88 L317.74 244.97 L318.34 244.06 L318.93 243.15 L319.53 242.24 L320.13 241.33 L320.73 240.42 L321.32 239.51 L321.92 238.60 L322.52 237.69 L323.12 236.78 L323.71 235.86 L324.31 234.95 L324.91 234.04 L325.51 233.13 L326.10 232.21 L326.70 231.30 L327.30 230.39 L327.89 229.48 L328.49 228.56 L329.09 227.65 L329.69 226.73 L330.28 225.82 L330.88 224.91 L331.48 223.99 L332.08 223.08 L332.67 222.16 L333.27 221.25 L333.87 220.33 L334.47 219.42 L335.06 218.50 L335.66 217.58 L336.26 216.67 L336.86 215.75 L337.45 214.84 L338.05 213.92 L338.65 213.00 L339.25 212.09 L339.84 211.17 L340.44 210.25 L341.04 209.34 L341.64 208.42 L342.23 207.50 L342.83 206.59 L343.43 205.67 L344.03 204.75 L344.62 203.83 L345.22 202.92 L345.82 202.00 L346.42 201.08 L347.01 200.16 L347.61 199.24 L348.21 198.33 L348.81 197.41 L349.40 196.49 L350.00 195.57 L350.60 194.65 L351.20 193.74 L351.79 192.82 L352.39 191.90 L352.99 190.98 L353.59 190.06 L354.18 189.14 L354.78 188.22 L355.38 187.31 L355.97 186.39 L356.57 185.47 L357.17 184.55 L357.77 183.63 L358.36 182.71 L358.96 181.79 L359.56 180.87 L360.16 179.95 L360.75 179.03 L361.35 178.12 L361.95 177.20 L362.55 176.28 L363.14 175.36 L363.74 174.44 L364.34 173.52 L364.94 172.60 L365.53 171.68 L366.13 170.76 L366.73 169.84 L367.33 168.92 L367.92 168.00 L368.52 167.08 L369.12 166.16 L369.72 165.24 L370.31 164.32 L370.91 163.40 L371.51 162.48 L372.11 161.56 L372.70 160.64 L373.30 159.72 L373.90 158.81 L374.50 157.89 L375.09 156.97 L375.69 156.05 L376.29 155.13 L376.89 154.21 L377.48 153.29 L378.08 152.37 L378.68 151.45 L379.28 150.53 L379.87 149.61 L380.47 148.69 L381.07 147.77 L381.67 146.85 L382.26 145.93 L382.86 145.01 L383.46 144.09 L384.05 143.17 L384.65 142.25 L385.25 141.33 L385.85 140.41 L386.44 139.49 L387.04 138.57 L387.64 137.65 L388.24 136.73 L388.83 135.81 L389.43 134.89 L390.03 133.97 L390.63 133.05 L391.22 132.13 L391.82 131.21 L392.42 130.29 L393.02 129.37 L393.61 128.45 L394.21 127.53 L394.81 126.61 L395.41 125.69 L396.00 124.77 L396.60 123.84 L397.20 122.92 L397.80 122.00 L398.39 121.08 L398.99 120.16 L399.59 119.24 L400.19 118.32 L400.78 117.40 L401.38 116.48 L401.98 115.56 L402.58 114.64 L403.17 113.72 L403.77 112.80 L404.37 111.88 L404.97 110.96 L405.56 110.04 L406.16 109.12 L406.76 108.20 L407.36 107.28 L407.95 106.36 L408.55 105.44 L409.15 104.52 L409.75 103.60 L410.34 102.68 L410.94 101.76 L411.54 100.84 L412.13 99.92 L412.73 99.00 L413.33 98.08 L413.93 97.16 L414.52 96.24 L415.12 95.32 L415.72 94.40 L416.32 93.48 L416.91 92.56 L417.51 91.64 L418.11 90.72 L418.71 89.80 L419.30 88.88 L419.90 87.96 L420.50 87.04 L421.10 86.12 L421.69 85.20 L422.29 84.28 L422.89 83.36 L423.49 82.44 L424.08 81.52 L424.68 80.59 L425.28 79.67 L425.88 78.75 L426.47 77.83 L427.07 76.91 L427.67 75.99 L428.27 75.07 L428.86 74.15 L429.46 73.23 L430.06 72.31 L430.66 71.39 L431.25 70.47 L431.85 69.55 L432.45 68.63 L433.05 67.71 L433.64 66.79 L434.24 65.87 L434.84 64.95 L435.44 64.03 L436.03 63.11 L436.63 62.19 L437.23 61.27 L437.83 60.35 L438.42 59.43 L439.02 58.51 L439.62 57.59 L440.22 56.67 L440.81 55.75" fill="none" stroke="#000" stroke-width="3" stroke-linejoin="round"/>
<path d="M82.34 453.54 L82.60 453.56 L82.85 453.58 L83.10 453.60 L83.36 453.62 L83.61 453.63 L83.87 453.65 L84.12 453.67 L84.37 453.69 L84.63 453.71 L84.88 453.73 L85.13 453.75 L85.39 453.77 L85.64 453.79 L85.89 453.81 L86.15 453.83 L86.40 453.85 L86.66 453.87 L86.91 453.89 L87.16 453.92 L87.42 453.94 L87.67 453.96 L87.92 453.98 L88.18 454.00 L88.43 454.02 L88.69 454.05 L88.94 454.07 L89.19 454.09 L89.45 454.11 L89.70 454.14 L89.95 454.16 L90.21 454.18 L90.46 454.21 L90.71 454.23 L90.97 454.25 L91.22 454.28 L91.48 454.30 L91.73 454.33 L91.98 454.35 L92.24 454.38 L92.49 454.40 L92.74 454.43 L93.00 454.45 L93.25 454.48 L93.50 454.50 L93.76 454.53 L94.01 454.56 L94.27 454.58 L94.52 454.61 L94.77 454.64 L95.03 454.67 L95.28 454.69 L95.53 454.72 L95.79 454.75 L96.04 454.78 L96.29 454.80 L96.55 454.83 L96.80 454.86 L97.06 454.89 L97.31 454.92 L97.56 454.95 L97.82 454.98 L98.07 455.01 L98.32 455.04 L98.58 455.07 L98.83 455.10 L99.09 455.13 L99.34 455.17 L99.59 455.20 L99.85 455.23 L100.10 455.26 L100.35 455.29 L100.61 455.33 L100.86 455.36 L101.11 455.39 L101.37 455.43 L101.62 455.46 L101.88 455.49 L102.13 455.53 L102.38 455.56 L102.64 455.60 L102.89 455.63 L103.14 455.67 L103.40 455.70 L103.65 455.74 L103.90 455.78 L104.16 455.81 L104.41 455.85 L104.67 455.89 L104.92 455.93 L105.17 455.96 L105.43 456.00 L105.68 456.04 L105.93 456.08 L106.19 456.12 L106.44 456.16 L106.69 456.20 L106.95 456.24 L107.20 456.28 L107.46 456.32 L107.71 456.36 L107.96 456.41 L108.22 456.45 L108.47 456.49 L108.72 456.53 L108.98 456.58 L109.23 456.62 L109.48 456.66 L109.74 456.71 L109.99 456.75 L110.25 456.80 L110.50 456.84 L110.75 456.89 L111.01 456.94 L111.26 456.98 L111.51 457.03 L111.77 457.08 L112.02 457.13 L112.28 457.17 L112.53 457.22 L112.78 457.27 L113.04 457.32 L113.29 457.37 L113.54 457.42 L113.80 457.47 L114.05 457.53 L114.30 457.58 L114.56 457.63 L114.81 457.68 L115.07 457.74 L115.32 457.79 L115.57 457.84 L115.83 457.90 L116.08 457.95 L116.33 458.01 L116.59 458.07 L116.84 458.12 L117.09 458.18 L117.35 458.24 L117.60 458.29 L117.86 458.35 L118.11 458.41 L118.36 458.47 L118.62 458.53 L118.87 458.59 L119.12 458.65 L119.38 458.72 L119.63 458.78 L119.88 458.84 L120.14 458.91 L120.39 458.97 L120.65 459.03 L120.90 459.10 L121.15 459.17 L121.41 459.23 L121.66 459.30 L121.91 459.37 L122.17 459.44 L122.42 459.50 L122.68 459.57 L122.93 459.64 L123.18 459.72 L123.44 459.79 L123.69 459.86 L123.94 459.93 L124.20 460.01 L124.45 460.08 L124.70 460.15 L124.96 460.23 L125.21 460.31 L125.47 460.38 L125.72 460.46 L125.97 460.54 L126.23 460.62 L126.48 460.70 L126.73 460.78 L126.99 460.86 L127.24 460.94 L127.49 461.03 L127.75 461.11 L128.00 461.19 L128.26 461.28 L128.51 461.36 L128.76 461.45 L129.02 461.54 L129.27 461.63 L129.52 461.72 L129.78 461.81 L130.03 461.90 L130.28 461.99 L130.54 462.08 L130.79 462.18 L131.05 462.27 L131.30 462.37 L131.55 462.46 L131.81 462.56 L132.06 462.66 L132.31 462.76 L132.57 462.86 L132.82 462.96 L133.07 463.06 L133.33 463.17 L133.58 463.27 L133.84 463.38 L134.09 463.48 L134.34 463.59 L134.60 463.70 L134.85 463.81 L135.10 463.92 L135.36 464.03 L135.61 464.14 L135.87 464.26 L136.12 464.37 L136.37 464.49 L136.63 464.60 L136.88 464.72 L137.13 464.84 L137.39 464.96 L137.64 465.09 L137.89 465.21 L138.15 465.33 L138.40 465.46 L138.66 465.59 L138.91 465.72 L139.16 465.85 L139.42 465.98 L139.67 466.11 L139.92 466.24 L140.18 466.38 L140.43 466.52 L140.68 466.65 L140.94 466.79 L141.19 466.94 L141.45 467.08 L141.70 467.22 L141.95 467.37 L142.21 467.52 L142.46 467.66 L142.71 467.81 L142.97 467.97 L143.22 468.12 L143.47 468.28 L143.73 468.43 L143.98 468.59 L144.24 468.75 L144.49 468.91 L144.74 469.08 L145.00 469.24 L145.25 469.41 L145.50 469.58 L145.76 469.75 L146.01 469.93 L146.27 470.10 L146.52 470.28 L146.77 470.46 L147.03 470.64 L147.28 470.82 L147.53 471.01 L147.79 471.19 L148.04 471.38 L148.29 471.58 L148.55 471.77 L148.80 471.97 L149.06 472.17 L149.31 472.37 L149.56 472.57 L149.82 472.78 L150.07 472.98 L150.32 473.19 L150.58 473.41 L150.83 473.62 L151.08 473.84 L151.34 474.06 L151.59 474.29 L151.85 474.51 L152.10 474.74 L152.35 474.97 L152.61 475.21 L152.86 475.45 L153.11 475.69 L153.37 475.93 L153.62 476.18 L153.87 476.43 L154.13 476.68 L154.38 476.94 L154.64 477.20 L154.89 477.46 L155.14 477.73 L155.40 478.00 L155.65 478.27 L155.90 478.55 L156.16 478.83 L156.41 479.11 L156.66 479.40 L156.92 479.69 L157.17 479.99 L157.43 480.29 L157.68 480.60 L157.93 480.91 L158.19 481.22 L158.44 481.54 L158.69 481.86 L158.95 482.18 L159.20 482.52 L159.46 482.85 L159.71 483.19 L159.96 483.54 L160.22 483.89 L160.47 484.25 L160.72 484.61 L160.98 484.97 L161.23 485.35 L161.48 485.72 L161.74 486.11 L161.99 486.50 L162.25 486.89 L162.50 487.30 L162.75 487.70 L163.01 488.12 L163.26 488.54 L163.51 488.97 L163.77 489.40 L164.02 489.85 L164.27 490.30 L164.53 490.75 L164.78 491.22 L165.04 491.69 L165.29 492.17 L165.54 492.66 L165.80 493.16 L166.05 493.67 L166.30 494.19 L166.56 494.71 L166.81 495.25 L167.06 495.79 L167.32 496.35 L167.57 496.92 L167.83 497.49 L168.08 498.08 L168.33 498.68 L168.59 499.29 L168.84 499.92 L169.09 500.55 L169.35 501.20 L169.60 501.87 L169.86 502.54 L170.11 503.23 L170.36 503.94 L170.62 504.66 L170.87 505.40 L171.12 506.16 L171.38 506.93 L171.63 507.72 L171.88 508.53 L172.14 509.36 L172.39 510.21 L172.65 511.08 L172.90 511.98 L173.15 512.89 L173.41 513.83 L173.66 514.80 L173.91 515.79 L174.17 516.81 L174.42 517.86 L174.67 518.94 L174.93 520.05 L175.18 521.19 L175.44 522.38 L175.69 523.59 L175.94 524.85 L176.20 526.15 L176.45 527.50 L176.70 528.89 L176.96 530.33 L177.21 531.83 L177.46 533.39 L177.72 535.00 L177.97 536.69 L178.23 538.44 L178.48 540.28 L178.73 542.19 L178.99 544.20 L179.24 546.30 L179.49 548.52 L179.75 550.85 L180.00 553.32 L180.26 555.93 L180.51 558.71 L180.76 561.67 L181.02 564.85 L181.27 568.25 L181.52 571.94 L181.78 575.95 L182.03 580.33 L182.28 585.17 L182.54 590.57 L182.79 596.66 L183.05 603.64 L183.30 611.80 L183.55 621.62 L183.81 633.92 L183.99 610.80" fill="none" stroke="#000" stroke-width="3" stroke-linejoin="round"/>
<path d="M186.18 610.80 L186.37 633.92 L186.65 619.33 L186.94 607.93 L187.22 598.55 L187.50 590.58 L187.79 583.64 L188.07 577.48 L188.35 571.95 L188.63 566.92 L188.92 562.31 L189.20 558.05 L189.48 554.08 L189.76 550.38 L190.05 546.89 L190.33 543.61 L190.61 540.49 L190.90 537.54 L191.18 534.72 L191.46 532.03 L191.74 529.45 L192.03 526.98 L192.31 524.60 L192.59 522.31 L192.87 520.10 L193.16 517.97 L193.44 515.90 L193.72 513.90 L194.01 511.96 L194.29 510.07 L194.57 508.24 L194.85 506.45 L195.14 504.72 L195.42 503.02 L195.70 501.37 L195.98 499.75 L196.27 498.17 L196.55 496.63 L196.83 495.12 L197.12 493.64 L197.40 492.18 L197.68 490.76 L197.96 489.37 L198.25 488.00 L198.53 486.65 L198.81 485.33 L199.09 484.03 L199.38 482.76 L199.66 481.50 L199.94 480.27 L200.22 479.05 L200.51 477.85 L200.79 476.67 L201.07 475.51 L201.36 474.36 L201.64 473.23 L201.92 472.11 L202.20 471.01 L202.49 469.92 L202.77 468.85 L203.05 467.79 L203.33 466.74 L203.62 465.71 L203.90 464.68 L204.18 463.67 L204.47 462.67 L204.75 461.68 L205.03 460.71 L205.31 459.74 L205.60 458.78 L205.88 457.83 L206.16 456.89 L206.44 455.96 L206.73 455.04 L207.01 454.13 L207.29 453.23 L207.58 452.33 L207.86 451.45 L208.14 450.57 L208.42 449.70 L208.71 448.83 L208.99 447.97 L209.27 447.12 L209.55 446.28 L209.84 445.44 L210.12 444.62 L210.40 443.79 L210.69 442.97 L210.97 442.16 L211.25 441.36 L211.53 440.56 L211.82 439.76 L212.10 438.98 L212.38 438.19 L212.66 437.42 L212.95 436.64 L213.23 435.88 L213.51 435.11 L213.80 434.36 L214.08 433.60 L214.36 432.86 L214.64 432.11 L214.93 431.37 L215.21 430.64 L215.49 429.91 L215.77 429.18 L216.06 428.46 L216.34 427.74 L216.62 427.03 L216.90 426.32 L217.19 425.61 L217.47 424.91 L217.75 424.21 L218.04 423.52 L218.32 422.83 L218.60 422.14 L218.88 421.45 L219.17 420.77 L219.45 420.09 L219.73 419.42 L220.01 418.75 L220.30 418.08 L220.58 417.41 L220.86 416.75 L221.15 416.09 L221.43 415.44 L221.71 414.78 L221.99 414.13 L222.28 413.48 L222.56 412.84 L222.84 412.19 L223.12 411.55 L223.41 410.92 L223.69 410.28 L223.97 409.65 L224.26 409.02 L224.54 408.39 L224.82 407.76 L225.10 407.14 L225.39 406.52 L225.67 405.90 L225.95 405.28 L226.23 404.67 L226.52 404.06 L226.80 403.45 L227.08 402.84 L227.37 402.24 L227.65 401.63 L227.93 401.03 L228.21 400.43 L228.50 399.83 L228.78 399.24 L229.06 398.64 L229.34 398.05 L229.63 397.46 L229.91 396.87 L230.19 396.28 L230.48 395.70 L230.76 395.12 L231.04 394.53 L231.32 393.95 L231.61 393.38 L231.89 392.80 L232.17 392.22 L232.45 391.65 L232.74 391.08 L233.02 390.51 L233.30 389.94 L233.58 389.37 L233.87 388.81 L234.15 388.24 L234.43 387.68 L234.72 387.12 L235.00 386.56 L235.28 386.00 L235.56 385.44 L235.85 384.88 L236.13 384.33 L236.41 383.78 L236.69 383.22 L236.98 382.67 L237.26 382.12 L237.54 381.57 L237.83 381.03 L238.11 380.48 L238.39 379.94 L238.67 379.39 L238.96 378.85 L239.24 378.31 L239.52 377.77 L239.80 377.23 L240.09 376.69 L240.37 376.15 L240.65 375.62 L240.94 375.08 L241.22 374.55 L241.50 374.02 L241.78 373.49 L242.07 372.96 L242.35 372.43 L242.63 371.90 L242.91 371.37 L243.20 370.84 L243.48 370.32 L243.76 369.79 L244.05 369.27 L244.33 368.75 L244.61 368.22 L244.89 367.70 L245.18 367.18 L245.46 366.66 L245.74 366.14 L246.02 365.63 L246.31 365.11 L246.59 364.59 L246.87 364.08 L247.16 363.56 L247.44 363.05 L247.72 362.54 L248.00 362.03 L248.29 361.51 L248.57 361.00 L248.85 360.49 L249.13 359.99 L249.42 359.48 L249.70 358.97 L249.98 358.46 L250.26 357.96 L250.55 357.45 L250.83 356.95 L251.11 356.44 L251.40 355.94 L251.68 355.44 L251.96 354.94 L252.24 354.44 L252.53 353.93 L252.81 353.43 L253.09 352.94 L253.37 352.44 L253.66 351.94 L253.94 351.44 L254.22 350.94 L254.51 350.45 L254.79 349.95 L255.07 349.46 L255.35 348.96 L255.64 348.47 L255.92 347.98 L256.20 347.48 L256.48 346.99 L256.77 346.50 L257.05 346.01 L257.33 345.52 L257.62 345.03 L257.90 344.54 L258.18 344.05 L258.46 343.56 L258.75 343.08 L259.03 342.59 L259.31 342.10 L259.59 341.62 L259.88 341.13 L260.16 340.65 L260.44 340.16 L260.73 339.68 L261.01 339.19 L261.29 338.71 L261.57 338.23 L261.86 337.74 L262.14 337.26 L262.42 336.78 L262.70 336.30 L262.99 335.82 L263.27 335.34 L263.55 334.86 L263.83 334.38 L264.12 333.90 L264.40 333.42 L264.68 332.95 L264.97 332.47 L265.25 331.99 L265.53 331.51 L265.81 331.04 L266.10 330.56 L266.38 330.09 L266.66 329.61 L266.94 329.14 L267.23 328.66 L267.51 328.19 L267.79 327.71 L268.08 327.24 L268.36 326.77 L268.64 326.30 L268.92 325.82 L269.21 325.35 L269.49 324.88 L269.77 324.41 L270.05 323.94 L270.34 323.47 L270.62 323.00 L270.90 322.53 L271.19 322.06 L271.47 321.59 L271.75 321.12 L272.03 320.65 L272.32 320.19 L272.60 319.72 L272.88 319.25 L273.16 318.78 L273.45 318.32 L273.73 317.85 L274.01 317.38 L274.30 316.92 L274.58 316.45 L274.86 315.99 L275.14 315.52 L275.43 315.06 L275.71 314.59 L275.99 314.13 L276.27 313.66 L276.56 313.20 L276.84 312.74 L277.12 312.27 L277.41 311.81 L277.69 311.35 L277.97 310.89 L278.25 310.43 L278.54 309.96 L278.82 309.50 L279.10 309.04 L279.38 308.58 L279.67 308.12 L279.95 307.66 L280.23 307.20 L280.51 306.74 L280.80 306.28 L281.08 305.82 L281.36 305.36 L281.65 304.90 L281.93 304.44 L282.21 303.98 L282.49 303.53 L282.78 303.07 L283.06 302.61 L283.34 302.15 L283.62 301.70 L283.91 301.24 L284.19 300.78 L284.47 300.32 L284.76 299.87 L285.04 299.41 L285.32 298.96 L285.60 298.50 L285.89 298.04 L286.17 297.59 L286.45 297.13 L286.73 296.68 L287.02 296.22 L287.30 295.77 L287.58 295.31 L287.87 294.86 L288.15 294.41 L288.43 293.95 L288.71 293.50 L289.00 293.04 L289.28 292.59 L289.56 292.14 L289.84 291.69 L290.13 291.23 L290.41 290.78 L290.69 290.33 L290.98 289.88 L291.26 289.42 L291.54 288.97 L291.82 288.52 L292.11 288.07 L292.39 287.62 L292.67 287.17 L292.95 286.71 L293.24 286.26 L293.52 285.81 L293.80 285.36 L294.09 284.91 L294.37 284.46 L294.65 284.01 L294.93 283.56 L295.22 283.11 L295.50 282.66 L295.78 282.21 L296.06 281.76 L296.35 281.31 L296.63 280.87 L296.91 280.42 L297.19 279.97 L297.48 279.52 L297.76 279.07 L298.04 278.62 L298.33 278.18 L298.61 277.73 L298.89 277.28 L299.17 276.83 L299.46 276.38 L299.74 275.94 L300.02 275.49 L300.30 275.04 L300.59 274.60 L300.87 274.15 L301.15 273.70 L301.44 273.25 L301.72 272.81 L302.00 272.36 L302.28 271.92 L302.57 271.47 L302.85 271.02 L303.13 270.58 L303.41 270.13 L303.70 269.69 L303.98 269.24 L304.26 268.80 L304.55 268.35 L304.83 267.90 L305.11 267.46 L305.39 267.01 L305.68 266.57 L305.96 266.12 L306.24 265.68 L306.52 265.24 L306.81 264.79 L307.09 264.35 L307.37 263.90 L307.66 263.46 L307.94 263.01 L308.22 262.57 L308.50 262.13 L308.79 261.68 L309.07 261.24 L309.35 260.80 L309.63 260.35 L309.92 259.91 L310.20 259.47 L310.48 259.02 L310.77 258.58 L311.05 258.14 L311.33 257.69 L311.61 257.25 L311.90 256.81 L312.18 256.37 L312.46 255.92 L312.74 255.48 L313.03 255.04 L313.31 254.60 L313.59 254.16 L313.87 253.71 L314.16 253.27 L314.44 252.83 L314.72 252.39 L315.01 251.95 L315.29 251.50 L315.57 251.06 L315.85 250.62 L316.14 250.18 L316.42 249.74 L316.70 249.30 L316.98 248.86 L317.27 248.41 L317.55 247.97 L317.83 247.53 L318.12 247.09 L318.40 246.65 L318.68 246.21 L318.96 245.77 L319.25 245.33 L319.53 244.89 L319.81 244.45 L320.09 244.01 L320.38 243.57 L320.66 243.13 L320.94 242.69 L321.23 242.25 L321.51 241.81 L321.79 241.37 L322.07 240.93 L322.36 240.49 L322.64 240.05 L322.92 239.61 L323.20 239.17 L323.49 238.73 L323.77 238.29 L324.05 237.85 L324.34 237.41 L324.62 236.97 L324.90 236.53 L325.18 236.09 L325.47 235.65 L325.75 235.21 L326.03 234.77 L326.31 234.34 L326.60 233.90 L326.88 233.46 L327.16 233.02 L327.45 232.58 L327.73 232.14 L328.01 231.70 L328.29 231.26 L328.58 230.82 L328.86 230.39 L329.14 229.95 L329.42 229.51 L329.71 229.07 L329.99 228.63 L330.27 228.19 L330.55 227.75 L330.84 227.32 L331.12 226.88 L331.40 226.44 L331.69 226.00 L331.97 225.56 L332.25 225.13 L332.53 224.69 L332.82 224.25 L333.10 223.81 L333.38 223.37 L333.66 222.94 L333.95 222.50 L334.23 222.06 L334.51 221.62 L334.80 221.18 L335.08 220.75 L335.36 220.31 L335.64 219.87 L335.93 219.43 L336.21 219.00 L336.49 218.56 L336.77 218.12 L337.06 217.68 L337.34 217.25 L337.62 216.81 L337.91 216.37 L338.19 215.93 L338.47 215.50 L338.75 215.06 L339.04 214.62 L339.32 214.18 L339.60 213.75 L339.88 213.31 L340.17 212.87 L340.45 212.44 L340.73 212.00 L341.02 211.56 L341.30 211.12 L341.58 210.69 L341.86 210.25 L342.15 209.81 L342.43 209.38 L342.71 208.94 L342.99 208.50 L343.28 208.06 L343.56 207.63 L343.84 207.19 L344.13 206.75 L344.41 206.32 L344.69 205.88 L344.97 205.44 L345.26 205.01 L345.54 204.57 L345.82 204.13 L346.10 203.70 L346.39 203.26 L346.67 202.82 L346.95 202.39 L347.23 201.95 L347.52 201.51 L347.80 201.08 L348.08 200.64 L348.37 200.20 L348.65 199.77 L348.93 199.33 L349.21 198.89 L349.50 198.46 L349.78 198.02 L350.06 197.58 L350.34 197.15 L350.63 196.71 L350.91 196.28 L351.19 195.84 L351.48 195.40 L351.76 194.97 L352.04 194.53 L352.32 194.09 L352.61 193.66 L352.89 193.22 L353.17 192.78 L353.45 192.35 L353.74 191.91 L354.02 191.48 L354.30 191.04 L354.59 190.60 L354.87 190.17 L355.15 189.73 L355.43 189.30 L355.72 188.86 L356.00 188.42 L356.28 187.99 L356.56 187.55 L356.85 187.11 L357.13 186.68 L357.41 186.24 L357.70 185.81 L357.98 185.37 L358.26 184.93 L358.54 184.50 L358.83 184.06 L359.11 183.63 L359.39 183.19 L359.67 182.75 L359.96 182.32 L360.24 181.88 L360.52 181.45 L360.81 181.01 L361.09 180.57 L361.37 180.14 L361.65 179.70 L361.94 179.27 L362.22 178.83 L362.50 178.39 L362.78 177.96 L363.07 177.52 L363.35 177.09 L363.63 176.65 L363.91 176.21 L364.20 175.78 L364.48 175.34 L364.76 174.91 L365.05 174.47 L365.33 174.03 L365.61 173.60 L365.89 173.16 L366.18 172.73 L366.46 172.29 L366.74 171.86 L367.02 171.42 L367.31 170.98 L367.59 170.55 L367.87 170.11 L368.16 169.68 L368.44 169.24 L368.72 168.80 L369.00 168.37 L369.29 167.93 L369.57 167.50 L369.85 167.06 L370.13 166.63 L370.42 166.19 L370.70 165.75 L370.98 165.32 L371.27 164.88 L371.55 164.45 L371.83 164.01 L372.11 163.58 L372.40 163.14 L372.68 162.70 L372.96 162.27 L373.24 161.83 L373.53 161.40 L373.81 160.96 L374.09 160.53 L374.38 160.09 L374.66 159.65 L374.94 159.22 L375.22 158.78 L375.51 158.35 L375.79 157.91 L376.07 157.48 L376.35 157.04 L376.64 156.60 L376.92 156.17 L377.20 155.73 L377.49 155.30 L377.77 154.86 L378.05 154.43 L378.33 153.99 L378.62 153.55 L378.90 153.12 L379.18 152.68 L379.46 152.25 L379.75 151.81 L380.03 151.38 L380.31 150.94 L380.59 150.50 L380.88 150.07 L381.16 149.63 L381.44 149.20 L381.73 148.76 L382.01 148.33 L382.29 147.89 L382.57 147.46 L382.86 147.02 L383.14 146.58 L383.42 146.15 L383.70 145.71 L383.99 145.28 L384.27 144.84 L384.55 144.41 L384.84 143.97 L385.12 143.54 L385.40 143.10 L385.68 142.66 L385.97 142.23 L386.25 141.79 L386.53 141.36 L386.81 140.92 L387.10 140.49 L387.38 140.05 L387.66 139.61 L387.95 139.18 L388.23 138.74 L388.51 138.31 L388.79 137.87 L389.08 137.44 L389.36 137.00 L389.64 136.57 L389.92 136.13 L390.21 135.69 L390.49 135.26 L390.77 134.82 L391.06 134.39 L391.34 133.95 L391.62 133.52 L391.90 133.08 L392.19 132.65 L392.47 132.21 L392.75 131.77 L393.03 131.34 L393.32 130.90 L393.60 130.47 L393.88 130.03 L394.17 129.60 L394.45 129.16 L394.73 128.73 L395.01 128.29 L395.30 127.85 L395.58 127.42 L395.86 126.98 L396.14 126.55 L396.43 126.11 L396.71 125.68 L396.99 125.24 L397.27 124.81 L397.56 124.37 L397.84 123.94 L398.12 123.50 L398.41 123.06 L398.69 122.63 L398.97 122.19 L399.25 121.76 L399.54 121.32 L399.82 120.89 L400.10 120.45 L400.38 120.02 L400.67 119.58 L400.95 119.14 L401.23 118.71 L401.52 118.27 L401.80 117.84 L402.08 117.40 L402.36 116.97 L402.65 116.53 L402.93 116.10 L403.21 115.66 L403.49 115.22 L403.78 114.79 L404.06 114.35 L404.34 113.92 L404.63 113.48 L404.91 113.05 L405.19 112.61 L405.47 112.18 L405.76 111.74 L406.04 111.31 L406.32 110.87 L406.60 110.43 L406.89 110.00 L407.17 109.56 L407.45 109.13 L407.74 108.69 L408.02 108.26 L408.30 107.82 L408.58 107.39 L408.87 106.95 L409.15 106.51 L409.43 106.08 L409.71 105.64 L410.00 105.21 L410.28 104.77 L410.56 104.34 L410.85 103.90 L411.13 103.47 L411.41 103.03 L411.69 102.60 L411.98 102.16 L412.26 101.72 L412.54 101.29 L412.82 100.85 L413.11 100.42 L413.39 99.98 L413.67 99.55 L413.95 99.11 L414.24 98.68 L414.52 98.24 L414.80 97.80 L415.09 97.37 L415.37 96.93 L415.65 96.50 L415.93 96.06 L416.22 95.63 L416.50 95.19 L416.78 94.76 L417.06 94.32 L417.35 93.89 L417.63 93.45 L417.91 93.01 L418.20 92.58 L418.48 92.14 L418.76 91.71 L419.04 91.27 L419.33 90.84 L419.61 90.40 L419.89 89.97 L420.17 89.53 L420.46 89.09 L420.74 88.66 L421.02 88.22 L421.31 87.79 L421.59 87.35 L421.87 86.92 L422.15 86.48 L422.44 86.05 L422.72 85.61 L423.00 85.18 L423.28 84.74 L423.57 84.30 L423.85 83.87 L424.13 83.43 L424.42 83.00 L424.70 82.56 L424.98 82.13 L425.26 81.69 L425.55 81.26 L425.83 80.82 L426.11 80.39 L426.39 79.95 L426.68 79.51 L426.96 79.08 L427.24 78.64 L427.53 78.21 L427.81 77.77 L428.09 77.34 L428.37 76.90 L428.66 76.47 L428.94 76.03 L429.22 75.59 L429.50 75.16 L429.79 74.72 L430.07 74.29 L430.35 73.85 L430.63 73.42 L430.92 72.98 L431.20 72.55 L431.48 72.11 L431.77 71.68 L432.05 71.24 L432.33 70.80 L432.61 70.37 L432.90 69.93 L433.18 69.50 L433.46 69.06 L433.74 68.63 L434.03 68.19 L434.31 67.76 L434.59 67.32 L434.88 66.89 L435.16 66.45 L435.44 66.01 L435.72 65.58 L436.01 65.14 L436.29 64.71 L436.57 64.27 L436.85 63.84 L437.14 63.40 L437.42 62.97 L437.70 62.53 L437.99 62.09 L438.27 61.66 L438.55 61.22 L438.83 60.79 L439.12 60.35 L439.40 59.92 L439.68 59.48 L439.96 59.05 L440.25 58.61 L440.53 58.18 L440.81 57.74" fill="none" stroke="#000" stroke-width="3" stroke-linejoin="round"/>
</g>
</g>
<line x1="124.14" y1="304.50" x2="701.30" y2="304.50" stroke="#2a2a2a" stroke-width="1" stroke-dasharray="4.7 3.43"/>
<line x1="124.5" y1="304.50" x2="131.75" y2="304.50" stroke="#000" stroke-width="1"/>
<line x1="124.14" y1="364.50" x2="701.30" y2="364.50" stroke="#2a2a2a" stroke-width="1" stroke-dasharray="4.7 3.43"/>
<rect x="131.15" y="182.3" width="570.75" height="23.8" fill="url(#hh)" stroke="#000" stroke-width="1.2"/>
<rect x="608.7" y="59.70" width="27.7" height="547.90" fill="url(#hv)" stroke="#000" stroke-width="1.45"/>
<g transform="scale(1.6,1)" stroke="#000" fill="none">
<rect x="82.344" y="59.50" width="355.969" height="548.30" stroke-width="1.45"/>
<path d="M77.87 608.03 L82.34 608.03 M77.87 598.79 L82.34 598.79 M77.87 590.98 L82.34 590.98 M77.87 584.21 L82.34 584.21 M77.87 578.24 L82.34 578.24 M74.25 572.90 L82.34 572.90 M77.87 537.77 L82.34 537.77 M77.87 517.22 L82.34 517.22 M77.87 502.64 L82.34 502.64 M77.87 491.33 L82.34 491.33 M77.87 482.09 L82.34 482.09 M77.87 474.28 L82.34 474.28 M77.87 467.51 L82.34 467.51 M77.87 461.54 L82.34 461.54 M74.25 456.20 L82.34 456.20 M77.87 421.07 L82.34 421.07 M77.87 400.52 L82.34 400.52 M77.87 385.94 L82.34 385.94 M77.87 374.63 L82.34 374.63 M77.87 365.39 L82.34 365.39 M77.87 357.58 L82.34 357.58 M77.87 350.81 L82.34 350.81 M77.87 344.84 L82.34 344.84 M74.25 339.50 L82.34 339.50 M77.87 283.82 L82.34 283.82 M77.87 269.24 L82.34 269.24 M77.87 257.93 L82.34 257.93 M77.87 248.69 L82.34 248.69 M77.87 240.88 L82.34 240.88 M77.87 234.11 L82.34 234.11 M77.87 228.14 L82.34 228.14 M74.25 222.80 L82.34 222.80 M77.87 187.67 L82.34 187.67 M77.87 167.12 L82.34 167.12 M77.87 152.54 L82.34 152.54 M77.87 141.23 L82.34 141.23 M77.87 131.99 L82.34 131.99 M77.87 124.18 L82.34 124.18 M77.87 117.41 L82.34 117.41 M77.87 111.44 L82.34 111.44 M74.25 106.10 L82.34 106.10 M77.87 70.97 L82.34 70.97 M82.27 607.80 L82.27 612.40 M88.27 607.80 L88.27 612.40 M93.34 607.80 L93.34 612.40 M97.73 607.80 L97.73 612.40 M101.61 607.80 L101.61 612.40 M105.08 607.80 L105.08 615.90 M127.88 607.80 L127.88 612.40 M141.22 607.80 L141.22 612.40 M150.69 607.80 L150.69 612.40 M158.03 607.80 L158.03 612.40 M164.03 607.80 L164.03 612.40 M169.10 607.80 L169.10 612.40 M173.50 607.80 L173.50 612.40 M177.37 607.80 L177.37 612.40 M180.84 607.80 L180.84 615.90 M203.64 607.80 L203.64 612.40 M216.99 607.80 L216.99 612.40 M226.45 607.80 L226.45 612.40 M233.79 607.80 L233.79 612.40 M239.79 607.80 L239.79 612.40 M244.86 607.80 L244.86 612.40 M249.26 607.80 L249.26 612.40 M253.13 607.80 L253.13 612.40 M256.60 607.80 L256.60 615.90 M279.41 607.80 L279.41 612.40 M292.75 607.80 L292.75 612.40 M302.21 607.80 L302.21 612.40 M309.56 607.80 L309.56 612.40 M315.55 607.80 L315.55 612.40 M320.63 607.80 L320.63 612.40 M325.02 607.80 L325.02 612.40 M328.90 607.80 L328.90 612.40 M332.36 607.80 L332.36 615.90 M355.17 607.80 L355.17 612.40 M368.51 607.80 L368.51 612.40 M377.98 607.80 L377.98 612.40 M385.32 607.80 L385.32 612.40 M391.32 607.80 L391.32 612.40 M396.39 607.80 L396.39 612.40 M400.78 607.80 L400.78 612.40 M404.66 607.80 L404.66 612.40 M408.12 607.80 L408.12 615.90 M430.93 607.80 L430.93 612.40" stroke-width="1.45"/>
</g>
<line x1="227.70" y1="350.00" x2="257.75" y2="393.30" stroke="#000" stroke-width="1.4"/>
<polygon points="263.30,401.40 254.10,394.40 261.40,392.20" fill="#000"/>
<line x1="385.20" y1="483.20" x2="360.00" y2="453.55" stroke="#000" stroke-width="1.4"/>
<polygon points="352.97,445.25 363.60,452.50 356.40,454.60" fill="#000"/>
<line x1="385.20" y1="483.20" x2="302.10" y2="523.30" stroke="#000" stroke-width="1.4"/>
<polygon points="290.70,528.80 300.00,521.20 304.20,525.40" fill="#000"/>
<text transform="translate(-0.88,69.85) scale(1.4438,0.9212)" font-size="16" stroke="#000" stroke-width="0.15">&lt;</text>
<text transform="translate(13.84,68.80) scale(1.5644,1.0000)" font-size="16" stroke="#000" stroke-width="0.15">m</text>
<text transform="translate(36.40,73.50) scale(1.5294,1.0000)" font-size="9" stroke="#000" stroke-width="0.15">ν</text>
<text transform="translate(44.04,69.85) scale(1.5500,0.9212)" font-size="16" stroke="#000" stroke-width="0.15">&gt;</text>
<text transform="translate(66.24,68.90) scale(1.6604,1.0000)" font-size="16" stroke="#000" stroke-width="0.15">[eV]</text>
<text transform="translate(670.53,643.30) scale(1.5576,1.0000)" font-size="15.5" stroke="#000" stroke-width="0.15">(m</text>
<text transform="translate(700.80,648.40) scale(1.3647,1.0000)" font-size="9" stroke="#000" stroke-width="0.15">ν</text>
<text transform="translate(709.70,643.30) scale(1.2000,1.0000)" font-size="15.5" stroke="#000" stroke-width="0.15">)</text>
<text transform="translate(716.57,647.90) scale(1.6561,1.0000)" font-size="9.5" stroke="#000" stroke-width="0.15">min</text>
<text transform="translate(742.29,643.30) scale(1.7137,1.0000)" font-size="15.5" stroke="#000" stroke-width="0.15">[eV]</text>
<text transform="translate(99.21,111.00) scale(1.3920,1.0000)" font-size="14" stroke="#000" stroke-width="0.15">1</text>
<text transform="translate(78.16,227.70) scale(1.6757,1.0000)" font-size="14" stroke="#000" stroke-width="0.15">0,1</text>
<text transform="translate(65.37,344.40) scale(1.6686,1.0000)" font-size="14" stroke="#000" stroke-width="0.15">0,01</text>
<text transform="translate(62.05,461.10) scale(1.6500,1.0000)" font-size="14" stroke="#000" stroke-width="0.15">1E-3</text>
<text transform="translate(62.06,577.80) scale(1.6354,1.0000)" font-size="14" stroke="#000" stroke-width="0.15">1E-4</text>
<text transform="translate(143.65,631.60) scale(1.6460,1.0000)" font-size="14" stroke="#000" stroke-width="0.15">1E-4</text>
<text transform="translate(265.58,631.60) scale(1.6179,1.0000)" font-size="14" stroke="#000" stroke-width="0.15">1E-3</text>
<text transform="translate(387.79,631.60) scale(1.6152,1.0000)" font-size="14" stroke="#000" stroke-width="0.15">0,01</text>
<text transform="translate(515.62,631.60) scale(1.5622,1.0000)" font-size="14" stroke="#000" stroke-width="0.15">0,1</text>
<text transform="translate(647.02,631.60) scale(1.3760,1.0000)" font-size="14" stroke="#000" stroke-width="0.15">1</text>
<text transform="translate(319.90,129.10) scale(1.8038,1.0000)" font-size="20" font-weight="bold">A</text>
<text transform="translate(345.77,137.50) scale(1.7333,1.0000)" font-size="12" font-weight="bold">3</text>
<text transform="translate(358.51,129.10) scale(1.7919,1.0000)" font-size="20" font-weight="bold">(SMA)</text>
<text transform="translate(500.57,295.40) scale(1.6660,1.0000)" font-size="14.4" font-style="italic" stroke="#000" stroke-width="0.15">Genius I</text>
<text transform="translate(492.87,355.70) scale(1.6596,1.0000)" font-size="14.4" font-style="italic" stroke="#000" stroke-width="0.15">Genius II</text>
<text transform="translate(188.31,345.65) scale(1.5875,0.9212)" font-size="16" stroke="#000" stroke-width="0.15">&lt;</text>
<text transform="translate(203.30,344.50) scale(1.6978,1.0000)" font-size="15.7" stroke="#000" stroke-width="0.15">m</text>
<text transform="translate(226.50,349.20) scale(1.4353,1.0000)" font-size="9" stroke="#000" stroke-width="0.15">ν</text>
<text transform="translate(233.69,345.65) scale(1.6125,0.9212)" font-size="16" stroke="#000" stroke-width="0.15">&gt;</text>
<text transform="translate(249.27,349.70) scale(1.4684,1.0000)" font-size="10.3" stroke="#000" stroke-width="0.15">max</text>
<text transform="translate(386.80,489.75) scale(1.6000,0.9212)" font-size="16" stroke="#000" stroke-width="0.15">&lt;</text>
<text transform="translate(401.71,488.60) scale(1.5913,1.0000)" font-size="16.3" stroke="#000" stroke-width="0.15">m</text>
<text transform="translate(424.40,493.70) scale(1.5529,1.0000)" font-size="9" stroke="#000" stroke-width="0.15">ν</text>
<text transform="translate(431.61,489.75) scale(1.6562,0.9212)" font-size="16" stroke="#000" stroke-width="0.15">&gt;</text>
<text transform="translate(447.49,493.90) scale(1.6207,1.0000)" font-size="9.6" stroke="#000" stroke-width="0.15">min</text>
</svg></body></html>
